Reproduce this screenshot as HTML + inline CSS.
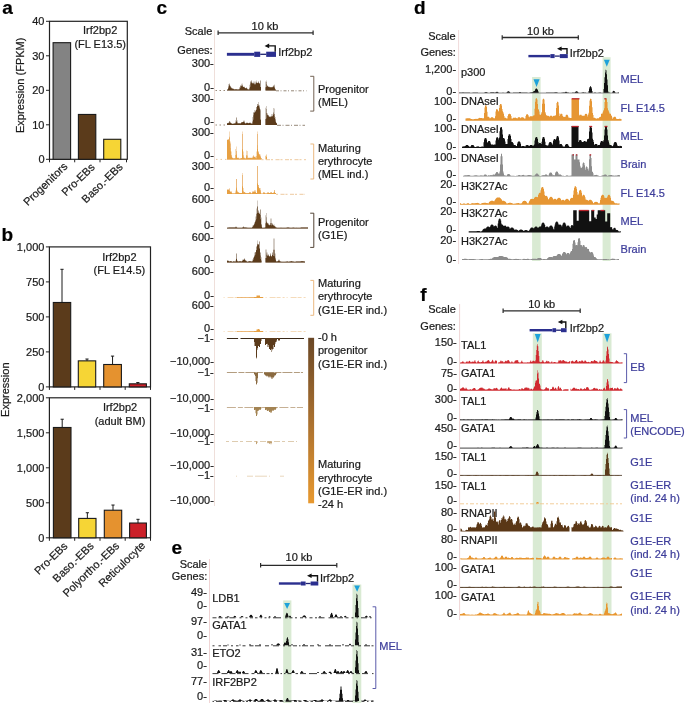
<!DOCTYPE html>
<html><head><meta charset="utf-8"><style>
html,body{margin:0;padding:0;background:#fff;width:685px;height:703px;overflow:hidden}
svg{display:block;will-change:transform}
text{font-family:"Liberation Sans",sans-serif;stroke:currentColor;stroke-width:0.22px;paint-order:stroke}
</style></head><body>
<svg width="685" height="703" viewBox="0 0 685 703">
<text x="2.20" y="14.20" font-size="19" text-anchor="start" fill="#000" color="#000" font-weight="bold" >a</text>
<rect x="49.50" y="21.30" width="77.80" height="138.00" fill="none" stroke="#222" stroke-width="1.2"/>
<line x1="46.00" y1="159.30" x2="49.50" y2="159.30" stroke="#222" stroke-width="1" />
<text x="44.50" y="163.20" font-size="11" text-anchor="end" fill="#1a1a1a" color="#1a1a1a" font-weight="normal" >0</text>
<line x1="46.00" y1="124.80" x2="49.50" y2="124.80" stroke="#222" stroke-width="1" />
<text x="44.50" y="128.70" font-size="11" text-anchor="end" fill="#1a1a1a" color="#1a1a1a" font-weight="normal" >10</text>
<line x1="46.00" y1="90.30" x2="49.50" y2="90.30" stroke="#222" stroke-width="1" />
<text x="44.50" y="94.20" font-size="11" text-anchor="end" fill="#1a1a1a" color="#1a1a1a" font-weight="normal" >20</text>
<line x1="46.00" y1="55.80" x2="49.50" y2="55.80" stroke="#222" stroke-width="1" />
<text x="44.50" y="59.70" font-size="11" text-anchor="end" fill="#1a1a1a" color="#1a1a1a" font-weight="normal" >30</text>
<line x1="46.00" y1="21.30" x2="49.50" y2="21.30" stroke="#222" stroke-width="1" />
<text x="44.50" y="25.20" font-size="11" text-anchor="end" fill="#1a1a1a" color="#1a1a1a" font-weight="normal" >40</text>
<line x1="49.50" y1="159.30" x2="49.50" y2="162.30" stroke="#222" stroke-width="1" />
<line x1="74.70" y1="159.30" x2="74.70" y2="162.30" stroke="#222" stroke-width="1" />
<line x1="100.00" y1="159.30" x2="100.00" y2="162.30" stroke="#222" stroke-width="1" />
<line x1="126.50" y1="159.30" x2="126.50" y2="162.30" stroke="#222" stroke-width="1" />
<rect x="53.10" y="42.69" width="17.50" height="116.61" fill="#838383" stroke="#1a1a1a" stroke-width="1.1" />
<rect x="78.40" y="114.45" width="17.40" height="44.85" fill="#5b3b1b" stroke="#1a1a1a" stroke-width="1.1" />
<rect x="103.70" y="139.29" width="17.10" height="20.01" fill="#f6d535" stroke="#1a1a1a" stroke-width="1.1" />
<text x="100.20" y="33.90" font-size="11" text-anchor="middle" fill="#1a1a1a" color="#1a1a1a" font-weight="normal" >Irf2bp2</text>
<text x="100.20" y="48.10" font-size="11" text-anchor="middle" fill="#1a1a1a" color="#1a1a1a" font-weight="normal" >(FL E13.5)</text>
<text x="68.20" y="167.20" font-size="11" text-anchor="end" fill="#1a1a1a" color="#1a1a1a" transform="rotate(-44 68.20 167.20)">Progenitors</text>
<text x="95.50" y="168.00" font-size="11" text-anchor="end" fill="#1a1a1a" color="#1a1a1a" transform="rotate(-44 95.50 168.00)">Pro-EBs</text>
<text x="123.50" y="167.60" font-size="11" text-anchor="end" fill="#1a1a1a" color="#1a1a1a" transform="rotate(-44 123.50 167.60)">Baso.-EBs</text>
<text x="24.2" y="85.3" font-size="11" text-anchor="middle" fill="#1a1a1a" color="#1a1a1a" transform="rotate(-90 24.2 85.3)">Expression (FPKM)</text>
<text x="1.40" y="241.30" font-size="19" text-anchor="start" fill="#000" color="#000" font-weight="bold" >b</text>
<rect x="49.40" y="246.90" width="101.10" height="140.00" fill="none" stroke="#222" stroke-width="1.2"/>
<line x1="45.90" y1="386.90" x2="49.40" y2="386.90" stroke="#222" stroke-width="1" />
<text x="44.40" y="390.80" font-size="11" text-anchor="end" fill="#1a1a1a" color="#1a1a1a" font-weight="normal" >0</text>
<line x1="45.90" y1="351.90" x2="49.40" y2="351.90" stroke="#222" stroke-width="1" />
<text x="44.40" y="355.80" font-size="11" text-anchor="end" fill="#1a1a1a" color="#1a1a1a" font-weight="normal" >250</text>
<line x1="45.90" y1="316.90" x2="49.40" y2="316.90" stroke="#222" stroke-width="1" />
<text x="44.40" y="320.80" font-size="11" text-anchor="end" fill="#1a1a1a" color="#1a1a1a" font-weight="normal" >500</text>
<line x1="45.90" y1="281.90" x2="49.40" y2="281.90" stroke="#222" stroke-width="1" />
<text x="44.40" y="285.80" font-size="11" text-anchor="end" fill="#1a1a1a" color="#1a1a1a" font-weight="normal" >750</text>
<line x1="45.90" y1="246.90" x2="49.40" y2="246.90" stroke="#222" stroke-width="1" />
<text x="44.40" y="250.80" font-size="11" text-anchor="end" fill="#1a1a1a" color="#1a1a1a" font-weight="normal" >1,000</text>
<line x1="49.40" y1="386.90" x2="49.40" y2="389.90" stroke="#222" stroke-width="1" />
<line x1="74.70" y1="386.90" x2="74.70" y2="389.90" stroke="#222" stroke-width="1" />
<line x1="100.00" y1="386.90" x2="100.00" y2="389.90" stroke="#222" stroke-width="1" />
<line x1="125.20" y1="386.90" x2="125.20" y2="389.90" stroke="#222" stroke-width="1" />
<line x1="150.50" y1="386.90" x2="150.50" y2="389.90" stroke="#222" stroke-width="1" />
<rect x="53.30" y="302.48" width="17.40" height="84.42" fill="#5b3b1b" stroke="#1a1a1a" stroke-width="1.1" />
<line x1="62.00" y1="269.30" x2="62.00" y2="302.48" stroke="#1a1a1a" stroke-width="1" />
<line x1="60.40" y1="269.30" x2="63.60" y2="269.30" stroke="#1a1a1a" stroke-width="1" />
<rect x="78.30" y="360.86" width="17.40" height="26.04" fill="#f6d535" stroke="#1a1a1a" stroke-width="1.1" />
<line x1="87.00" y1="359.04" x2="87.00" y2="360.86" stroke="#1a1a1a" stroke-width="1" />
<line x1="85.40" y1="359.04" x2="88.60" y2="359.04" stroke="#1a1a1a" stroke-width="1" />
<rect x="103.70" y="364.50" width="17.70" height="22.40" fill="#e5922f" stroke="#1a1a1a" stroke-width="1.1" />
<line x1="112.55" y1="356.10" x2="112.55" y2="364.50" stroke="#1a1a1a" stroke-width="1" />
<line x1="110.95" y1="356.10" x2="114.15" y2="356.10" stroke="#1a1a1a" stroke-width="1" />
<rect x="129.30" y="383.82" width="17.10" height="3.08" fill="#cb2028" stroke="#1a1a1a" stroke-width="1.1" />
<line x1="137.85" y1="382.56" x2="137.85" y2="383.82" stroke="#1a1a1a" stroke-width="1" />
<line x1="136.25" y1="382.56" x2="139.45" y2="382.56" stroke="#1a1a1a" stroke-width="1" />
<text x="119.40" y="260.70" font-size="11" text-anchor="middle" fill="#1a1a1a" color="#1a1a1a" font-weight="normal" >Irf2bp2</text>
<text x="119.40" y="273.80" font-size="11" text-anchor="middle" fill="#1a1a1a" color="#1a1a1a" font-weight="normal" >(FL E14.5)</text>
<rect x="49.40" y="397.80" width="101.10" height="140.00" fill="none" stroke="#222" stroke-width="1.2"/>
<line x1="45.90" y1="537.80" x2="49.40" y2="537.80" stroke="#222" stroke-width="1" />
<text x="44.40" y="541.70" font-size="11" text-anchor="end" fill="#1a1a1a" color="#1a1a1a" font-weight="normal" >0</text>
<line x1="45.90" y1="502.80" x2="49.40" y2="502.80" stroke="#222" stroke-width="1" />
<text x="44.40" y="506.70" font-size="11" text-anchor="end" fill="#1a1a1a" color="#1a1a1a" font-weight="normal" >500</text>
<line x1="45.90" y1="467.80" x2="49.40" y2="467.80" stroke="#222" stroke-width="1" />
<text x="44.40" y="471.70" font-size="11" text-anchor="end" fill="#1a1a1a" color="#1a1a1a" font-weight="normal" >1,000</text>
<line x1="45.90" y1="432.80" x2="49.40" y2="432.80" stroke="#222" stroke-width="1" />
<text x="44.40" y="436.70" font-size="11" text-anchor="end" fill="#1a1a1a" color="#1a1a1a" font-weight="normal" >1,500</text>
<line x1="45.90" y1="397.80" x2="49.40" y2="397.80" stroke="#222" stroke-width="1" />
<text x="44.40" y="401.70" font-size="11" text-anchor="end" fill="#1a1a1a" color="#1a1a1a" font-weight="normal" >2,000</text>
<line x1="49.40" y1="537.80" x2="49.40" y2="540.80" stroke="#222" stroke-width="1" />
<line x1="74.70" y1="537.80" x2="74.70" y2="540.80" stroke="#222" stroke-width="1" />
<line x1="100.00" y1="537.80" x2="100.00" y2="540.80" stroke="#222" stroke-width="1" />
<line x1="125.20" y1="537.80" x2="125.20" y2="540.80" stroke="#222" stroke-width="1" />
<line x1="150.50" y1="537.80" x2="150.50" y2="540.80" stroke="#222" stroke-width="1" />
<rect x="53.40" y="427.48" width="17.60" height="110.32" fill="#5b3b1b" stroke="#1a1a1a" stroke-width="1.1" />
<line x1="62.20" y1="419.22" x2="62.20" y2="427.48" stroke="#1a1a1a" stroke-width="1" />
<line x1="60.60" y1="419.22" x2="63.80" y2="419.22" stroke="#1a1a1a" stroke-width="1" />
<rect x="78.70" y="518.41" width="17.30" height="19.39" fill="#f6d535" stroke="#1a1a1a" stroke-width="1.1" />
<line x1="87.35" y1="512.74" x2="87.35" y2="518.41" stroke="#1a1a1a" stroke-width="1" />
<line x1="85.75" y1="512.74" x2="88.95" y2="512.74" stroke="#1a1a1a" stroke-width="1" />
<rect x="104.30" y="510.22" width="17.40" height="27.58" fill="#e5922f" stroke="#1a1a1a" stroke-width="1.1" />
<line x1="113.00" y1="505.04" x2="113.00" y2="510.22" stroke="#1a1a1a" stroke-width="1" />
<line x1="111.40" y1="505.04" x2="114.60" y2="505.04" stroke="#1a1a1a" stroke-width="1" />
<rect x="129.60" y="523.03" width="16.80" height="14.77" fill="#cb2028" stroke="#1a1a1a" stroke-width="1.1" />
<line x1="138.00" y1="519.32" x2="138.00" y2="523.03" stroke="#1a1a1a" stroke-width="1" />
<line x1="136.40" y1="519.32" x2="139.60" y2="519.32" stroke="#1a1a1a" stroke-width="1" />
<text x="120.00" y="411.00" font-size="11" text-anchor="middle" fill="#1a1a1a" color="#1a1a1a" font-weight="normal" >Irf2bp2</text>
<text x="120.00" y="424.50" font-size="11" text-anchor="middle" fill="#1a1a1a" color="#1a1a1a" font-weight="normal" >(adult BM)</text>
<text x="68.30" y="546.80" font-size="11" text-anchor="end" fill="#1a1a1a" color="#1a1a1a" transform="rotate(-44 68.30 546.80)">Pro-EBs</text>
<text x="94.50" y="546.80" font-size="11" text-anchor="end" fill="#1a1a1a" color="#1a1a1a" transform="rotate(-44 94.50 546.80)">Baso.-EBs</text>
<text x="120.00" y="546.60" font-size="11" text-anchor="end" fill="#1a1a1a" color="#1a1a1a" transform="rotate(-44 120.00 546.60)">Polyortho.-EBs</text>
<text x="146.00" y="546.20" font-size="11" text-anchor="end" fill="#1a1a1a" color="#1a1a1a" transform="rotate(-44 146.00 546.20)">Reticulocyte</text>
<text x="9.4" y="389.7" font-size="11" text-anchor="middle" fill="#1a1a1a" color="#1a1a1a" transform="rotate(-90 9.4 389.7)">Expression</text>
<text x="156.60" y="14.10" font-size="19" text-anchor="start" fill="#000" color="#000" font-weight="bold" >c</text>
<text x="212.30" y="35.10" font-size="11" text-anchor="end" fill="#1a1a1a" color="#1a1a1a" font-weight="normal" >Scale</text>
<line x1="218.10" y1="32.80" x2="313.10" y2="32.80" stroke="#2a2a2a" stroke-width="1.3" />
<line x1="218.10" y1="30.60" x2="218.10" y2="35.00" stroke="#2a2a2a" stroke-width="1.2" />
<line x1="313.10" y1="30.60" x2="313.10" y2="35.00" stroke="#2a2a2a" stroke-width="1.2" />
<text x="265.00" y="29.80" font-size="11" text-anchor="middle" fill="#1a1a1a" color="#1a1a1a" font-weight="normal" >10 kb</text>
<text x="212.60" y="53.60" font-size="11" text-anchor="end" fill="#1a1a1a" color="#1a1a1a" font-weight="normal" >Genes:</text>
<rect x="226.90" y="52.85" width="27.30" height="2.90" fill="#2b2f8f" stroke="none" stroke-width="0" />
<line x1="260.20" y1="54.30" x2="266.20" y2="54.30" stroke="#1f2370" stroke-width="1.3" />
<rect x="254.20" y="51.70" width="6.00" height="5.20" fill="#2b2f8f" stroke="none" stroke-width="0" />
<rect x="266.20" y="51.70" width="9.80" height="5.20" fill="#2b2f8f" stroke="none" stroke-width="0" />
<path d="M275.20,51.70 V45.90 H268.10" fill="none" stroke="#111" stroke-width="1.4"/>
<path d="M264.60,45.90 l4.6,-2.3 v4.6 z" fill="#111"/>
<text x="278.20" y="56.00" font-size="11" text-anchor="start" fill="#1a1a1a" color="#1a1a1a" font-weight="normal" >Irf2bp2</text>
<line x1="214.50" y1="30.00" x2="214.50" y2="506.00" stroke="#efdfda" stroke-width="1" />
<text x="213.80" y="67.00" font-size="11" text-anchor="end" fill="#1a1a1a" color="#1a1a1a" font-weight="normal" >300-</text>
<text x="213.80" y="90.70" font-size="11" text-anchor="end" fill="#1a1a1a" color="#1a1a1a" font-weight="normal" >0-</text>
<text x="213.80" y="102.20" font-size="11" text-anchor="end" fill="#1a1a1a" color="#1a1a1a" font-weight="normal" >300-</text>
<text x="213.80" y="124.70" font-size="11" text-anchor="end" fill="#1a1a1a" color="#1a1a1a" font-weight="normal" >0-</text>
<text x="213.80" y="136.20" font-size="11" text-anchor="end" fill="#1a1a1a" color="#1a1a1a" font-weight="normal" >300-</text>
<text x="213.80" y="159.20" font-size="11" text-anchor="end" fill="#1a1a1a" color="#1a1a1a" font-weight="normal" >0-</text>
<text x="213.80" y="169.80" font-size="11" text-anchor="end" fill="#1a1a1a" color="#1a1a1a" font-weight="normal" >300-</text>
<text x="213.80" y="190.50" font-size="11" text-anchor="end" fill="#1a1a1a" color="#1a1a1a" font-weight="normal" >0-</text>
<text x="213.80" y="203.20" font-size="11" text-anchor="end" fill="#1a1a1a" color="#1a1a1a" font-weight="normal" >600-</text>
<text x="213.80" y="228.60" font-size="11" text-anchor="end" fill="#1a1a1a" color="#1a1a1a" font-weight="normal" >0-</text>
<text x="213.80" y="241.20" font-size="11" text-anchor="end" fill="#1a1a1a" color="#1a1a1a" font-weight="normal" >600-</text>
<text x="213.80" y="262.80" font-size="11" text-anchor="end" fill="#1a1a1a" color="#1a1a1a" font-weight="normal" >0-</text>
<text x="213.80" y="275.30" font-size="11" text-anchor="end" fill="#1a1a1a" color="#1a1a1a" font-weight="normal" >600-</text>
<text x="213.80" y="298.50" font-size="11" text-anchor="end" fill="#1a1a1a" color="#1a1a1a" font-weight="normal" >0-</text>
<text x="213.80" y="309.10" font-size="11" text-anchor="end" fill="#1a1a1a" color="#1a1a1a" font-weight="normal" >600-</text>
<text x="213.80" y="332.20" font-size="11" text-anchor="end" fill="#1a1a1a" color="#1a1a1a" font-weight="normal" >0-</text>
<text x="213.80" y="342.10" font-size="11" text-anchor="end" fill="#1a1a1a" color="#1a1a1a" font-weight="normal" >−1-</text>
<text x="213.80" y="365.00" font-size="11" text-anchor="end" fill="#1a1a1a" color="#1a1a1a" font-weight="normal" >−10,000-</text>
<text x="213.80" y="375.60" font-size="11" text-anchor="end" fill="#1a1a1a" color="#1a1a1a" font-weight="normal" >−1-</text>
<text x="213.80" y="402.00" font-size="11" text-anchor="end" fill="#1a1a1a" color="#1a1a1a" font-weight="normal" >−10,000-</text>
<text x="213.80" y="411.70" font-size="11" text-anchor="end" fill="#1a1a1a" color="#1a1a1a" font-weight="normal" >−1-</text>
<text x="213.80" y="436.60" font-size="11" text-anchor="end" fill="#1a1a1a" color="#1a1a1a" font-weight="normal" >−10,000-</text>
<text x="213.80" y="445.30" font-size="11" text-anchor="end" fill="#1a1a1a" color="#1a1a1a" font-weight="normal" >−1-</text>
<text x="213.80" y="469.40" font-size="11" text-anchor="end" fill="#1a1a1a" color="#1a1a1a" font-weight="normal" >−10,000-</text>
<text x="213.80" y="478.60" font-size="11" text-anchor="end" fill="#1a1a1a" color="#1a1a1a" font-weight="normal" >−1-</text>
<text x="213.80" y="503.80" font-size="11" text-anchor="end" fill="#1a1a1a" color="#1a1a1a" font-weight="normal" >−10,000-</text>
<line x1="215.50" y1="90.50" x2="227.00" y2="90.50" stroke="#9a8a7a" stroke-width="1" stroke-dasharray="1.5 2.5"/>
<path d="M227.0,90.5V89.8H227.5V89.1H228.0V86.2H228.5V84.1H229.0V83.5H229.5V83.8H230.0V85.7H230.5V86.5H231.0V87.1H231.5V88.2H232.0V88.7H232.5V88.5H233.5V88.7H234.0V89.1H234.5V89.5H235.0V89.4H235.5V89.0H236.5V89.4H237.0V89.5H238.0V89.4H238.5V89.3H239.5V87.0H240.0V85.5H241.0V86.3H241.5V83.7H242.0V83.5H242.5V85.0H243.0V87.1H243.5V86.5H244.5V87.1H245.0V88.2H246.0V87.5H247.0V88.2H247.5V89.2H248.0V89.4H248.5V89.5H249.5V84.7H250.0V81.5H251.0V80.5H252.0V83.6H252.5V82.5H253.0V83.1H253.5V81.5H254.5V84.5H255.5V81.4H256.0V80.5H256.5V82.1H257.0V82.5H257.5V83.2H258.0V81.5H259.0V83.5H260.0V80.5H261.0V90.5H265.5V81.4H266.0V80.5H266.5V82.1H267.0V85.5H268.0V86.7H268.5V86.5H269.5V87.1H270.0V87.5H270.5V87.0H271.5V87.5H272.5V86.5H273.5V85.0H274.0V84.5H274.5V85.5H275.0V88.8H275.5V89.7H276.0V90.5Z" fill="#a89a8c"/>
<path d="M227.0,90.5V89.8H227.5V89.6H228.0V88.5H228.5V87.4H229.0V85.3H229.5V85.6H230.0V86.6H230.5V87.6H231.0V88.1H231.5V88.5H232.0V88.7H232.5V88.6H233.0V88.9H233.5V89.2H234.0V89.4H234.5V89.5H235.5V89.3H236.5V89.5H238.5V89.4H239.5V88.5H240.0V88.0H240.5V86.5H241.0V86.3H241.5V85.4H242.0V85.8H242.5V86.4H243.0V87.1H243.5V86.9H244.0V87.6H244.5V87.8H245.0V88.2H246.0V88.0H246.5V88.6H247.0V89.0H247.5V89.4H248.0V89.5H249.5V87.8H250.0V86.7H250.5V83.6H251.0V82.5H252.0V83.6H252.5V83.2H253.0V83.4H254.5V84.5H255.5V83.4H256.0V83.1H256.5V82.8H257.0V83.0H257.5V83.2H258.0V82.8H259.0V83.5H260.0V87.0H261.0V90.5H265.5V87.3H266.0V87.0H266.5V84.3H267.0V86.3H268.0V86.7H268.5V86.9H269.0V87.1H269.5V87.4H270.0V87.5H270.5V87.3H271.5V87.5H272.5V87.1H273.5V86.0H274.0V87.3H274.5V88.2H275.0V89.4H275.5V89.7H276.0V90.5Z" fill="#5b3b1b"/>
<line x1="276.00" y1="90.80" x2="306.50" y2="90.80" stroke="#8a7a6a" stroke-width="0.9" stroke-dasharray="3 1.5 1 2"/>
<line x1="215.50" y1="125.00" x2="227.00" y2="125.00" stroke="#9a8a7a" stroke-width="1" stroke-dasharray="1.5 2.5"/>
<path d="M227.0,125.0V123.3H228.5V122.3H229.0V121.1H229.5V121.0H230.0V121.7H230.5V123.0H231.5V123.2H232.0V123.6H232.5V123.9H233.0V123.7H233.5V123.5H234.5V123.6H235.0V123.5H235.5V120.2H236.0V117.5H237.0V120.2H237.5V123.6H238.0V123.2H238.5V123.0H239.5V123.2H240.0V123.6H240.5V122.9H241.0V122.3H241.5V122.0H242.5V122.3H243.0V121.6H243.5V120.5H244.5V121.6H245.0V123.5H245.5V123.2H246.0V122.8H246.5V122.5H247.5V122.8H248.0V123.2H249.0V122.8H249.5V122.5H250.5V122.8H251.0V123.2H251.5V123.8H252.0V123.5H252.5V117.1H253.0V112.8H253.5V112.0H254.0V112.9H254.5V110.0H255.5V111.3H256.0V107.0H257.0V104.0H258.0V102.0H258.5V105.8H259.0V105.0H259.5V106.2H260.0V109.0H260.5V110.2H261.0V125.0H265.5V107.7H266.0V106.0H266.5V109.1H267.0V113.0H267.5V115.3H268.0V115.0H269.0V116.9H269.5V116.0H270.5V117.3H271.0V116.6H271.5V114.0H272.5V116.6H273.0V112.3H273.5V108.0H274.0V108.5H274.5V115.9H275.0V117.0H275.5V118.9H276.0V122.4H276.5V123.5H277.0V125.0Z" fill="#a89a8c"/>
<path d="M227.0,125.0V123.3H228.5V123.0H229.0V122.5H229.5V122.3H230.0V122.5H230.5V123.1H231.0V123.4H231.5V123.7H232.0V123.8H232.5V123.9H233.0V123.8H234.0V123.6H235.5V122.4H236.0V121.4H236.5V121.5H237.0V122.4H237.5V123.6H238.0V123.5H238.5V123.4H239.5V123.5H240.0V123.6H240.5V123.4H241.0V123.1H241.5V122.6H242.0V122.2H242.5V122.3H243.0V122.1H243.5V121.7H244.0V122.5H244.5V122.8H245.0V123.5H245.5V123.4H246.0V123.3H246.5V123.0H247.5V123.1H248.0V123.2H249.0V123.1H249.5V123.0H250.5V123.4H251.0V123.6H251.5V123.8H252.0V123.7H252.5V121.5H253.0V119.8H253.5V115.3H254.0V112.9H254.5V111.9H255.5V111.3H256.0V109.8H257.0V105.9H258.0V104.5H258.5V106.1H259.0V107.6H259.5V108.8H260.0V119.4H260.5V119.8H261.0V125.0H265.5V118.9H266.0V118.4H266.5V113.1H267.0V114.5H267.5V115.3H268.0V116.2H269.0V116.9H269.5V116.8H270.5V117.3H271.0V117.1H271.5V116.1H272.0V115.7H272.5V116.6H273.0V115.1H273.5V113.6H274.0V114.0H274.5V117.9H275.0V120.5H275.5V121.9H276.0V123.1H276.5V123.5H277.0V125.0Z" fill="#5b3b1b"/>
<line x1="277.00" y1="125.30" x2="305.00" y2="125.30" stroke="#8a7a6a" stroke-width="0.9" stroke-dasharray="4 1.5 1 2"/>
<path d="M227.0,159.4V139.9H227.5V139.4H229.0V131.4H229.5V136.8H230.0V141.4H230.5V143.6H231.0V151.4H231.5V155.4H232.0V157.4H232.5V157.8H233.0V158.4H233.5V158.3H235.0V158.4H235.5V148.9H236.0V146.4H236.5V151.0H237.0V158.1H237.5V157.4H238.5V158.1H239.0V158.8H239.5V158.6H240.0V158.4H240.5V158.2H241.0V158.1H241.5V158.3H242.0V133.9H242.5V131.4H243.0V151.4H243.5V157.4H244.5V158.1H245.0V158.6H245.5V158.4H246.0V155.3H246.5V150.4H247.0V151.0H247.5V158.1H248.5V157.4H249.5V158.1H250.5V157.4H251.5V158.1H252.0V158.3H252.5V156.4H253.0V155.4H253.5V155.5H254.0V157.3H254.5V156.4H255.5V157.5H256.0V158.6H256.5V151.4H257.0V131.4H257.5V133.9H258.0V151.4H259.0V154.2H259.5V154.4H260.5V156.2H261.0V158.1H261.5V159.4Z" fill="#ebb97e"/>
<path d="M227.0,159.4V139.9H227.5V139.7H228.5V139.4H229.0V137.9H229.5V141.2H230.0V147.9H230.5V151.3H231.0V155.3H231.5V157.0H232.0V158.0H232.5V158.2H233.0V158.4H235.5V155.1H236.0V154.2H236.5V155.6H237.0V158.1H237.5V157.9H238.0V158.3H238.5V158.6H239.0V158.8H239.5V158.7H240.5V158.5H241.0V158.3H242.0V149.8H242.5V148.9H243.0V155.3H243.5V157.9H244.0V158.2H244.5V158.4H245.0V158.6H245.5V158.5H246.0V157.4H246.5V155.6H247.5V158.1H248.5V157.9H249.5V158.1H250.5V157.9H251.0V158.0H251.5V158.2H252.0V158.3H252.5V157.6H253.0V157.3H253.5V156.7H254.0V157.3H254.5V157.1H255.0V157.8H255.5V158.2H256.0V158.6H256.5V156.1H257.0V149.1H257.5V145.3H258.0V153.2H258.5V153.4H259.0V154.3H259.5V155.6H260.0V156.8H260.5V157.4H261.0V158.1H261.5V159.4Z" fill="#e7a042"/>
<line x1="216.00" y1="159.40" x2="227.00" y2="159.40" stroke="#e9c9a0" stroke-width="1" stroke-dasharray="1.5 3"/>
<path d="M265.5,159.4V155.7H266.0V154.4H266.5V156.7H267.0V159.4Z" fill="#e7a042"/>
<line x1="261.50" y1="159.70" x2="306.00" y2="159.70" stroke="#ecc494" stroke-width="0.9" stroke-dasharray="2 2.5 4 1"/>
<path d="M227.0,194.0V190.0H227.5V189.0H228.5V190.0H229.0V188.0H229.5V189.2H230.0V192.1H230.5V191.0H231.5V192.1H232.0V193.4H233.0V193.5H235.5V190.4H236.0V179.0H237.0V190.4H237.5V192.0H238.5V192.7H239.0V192.8H239.5V192.9H241.5V193.0H242.0V174.9H242.5V173.0H243.0V188.0H243.5V192.4H244.0V192.0H245.0V192.4H245.5V193.1H246.0V193.3H246.5V193.2H247.5V193.3H248.5V193.1H249.0V192.4H249.5V192.0H250.5V192.4H251.0V193.1H251.5V193.5H252.0V192.1H252.5V191.0H253.5V192.1H254.0V191.4H254.5V190.0H255.5V191.4H256.0V193.1H256.5V192.9H257.0V166.0H258.0V185.0H259.0V188.2H259.5V188.0H260.5V190.1H261.0V192.9H261.5V194.0H262.5V192.9H263.0V192.7H263.5V192.0H264.5V192.7H265.0V193.4H267.0V192.7H267.5V192.0H268.5V192.7H269.0V193.1H270.0V192.7H270.5V192.0H271.5V192.7H272.0V192.9H273.5V192.2H274.0V190.0H274.5V190.3H275.0V193.0H275.5V193.2H276.0V194.0Z" fill="#ebb97e"/>
<path d="M227.0,194.0V190.0H227.5V189.7H228.5V190.0H229.0V190.7H229.5V191.1H230.0V192.1H230.5V191.7H231.0V192.6H231.5V192.9H232.0V193.5H235.5V192.4H236.0V188.4H236.5V187.5H237.0V191.4H237.5V192.5H238.5V192.8H239.0V192.9H240.5V193.0H242.0V186.7H242.5V186.0H243.0V190.9H243.5V192.4H244.0V192.3H244.5V192.7H245.0V193.0H245.5V193.2H246.0V193.3H248.5V193.2H249.0V193.0H249.5V192.7H250.5V193.1H251.0V193.4H251.5V193.5H252.0V193.0H252.5V192.6H253.0V191.7H253.5V192.1H254.0V191.9H254.5V191.4H255.0V192.0H255.5V192.5H256.0V193.1H256.5V193.0H257.0V183.6H257.5V183.5H258.0V187.1H259.0V188.2H259.5V189.4H260.0V191.2H260.5V192.6H261.0V193.6H261.5V194.0H262.5V193.6H263.0V193.5H263.5V192.6H264.0V192.9H264.5V193.2H265.0V193.4H267.0V193.2H267.5V192.9H268.0V192.7H268.5V193.0H269.0V193.1H270.0V193.0H270.5V192.7H271.0V192.6H271.5V192.8H272.0V192.9H273.5V192.7H274.0V192.0H274.5V192.2H275.0V193.1H275.5V193.2H276.0V194.0Z" fill="#e7a042"/>
<line x1="276.00" y1="194.30" x2="305.00" y2="194.30" stroke="#ecc494" stroke-width="0.9" stroke-dasharray="2 2.5 4 1"/>
<path d="M227.0,228.6V227.7H227.5V227.6H232.5V227.5H233.5V227.6H235.0V227.3H235.5V226.6H236.5V227.3H237.0V227.6H237.5V227.7H238.5V227.8H240.5V227.7H242.0V227.6H242.5V227.3H243.0V226.6H244.0V227.3H244.5V227.6H247.5V227.7H248.5V227.8H250.0V227.7H252.0V226.7H252.5V225.6H253.5V224.7H254.0V222.6H255.0V220.8H255.5V216.6H256.5V208.6H257.0V206.0H257.5V200.6H258.0V210.5H258.5V210.6H259.0V214.0H259.5V212.6H260.0V210.1H260.5V209.0H261.0V217.5H261.5V224.9H262.0V227.8H263.0V227.7H264.0V227.6H265.0V227.5H265.5V215.3H266.0V212.9H266.5V217.3H267.0V222.6H267.5V223.6H269.0V225.4H269.5V224.6H270.5V218.6H271.5V225.4H272.0V223.6H273.0V225.4H273.5V224.6H274.5V226.0H275.0V226.6H276.0V227.3H276.5V227.8H279.5V227.7H280.5V227.6H281.5V227.7H282.5V227.8H285.5V227.7H286.0V227.6H287.0V227.5H288.5V227.6H290.0V227.7H292.0V227.6H293.0V227.5H293.5V227.6H294.5V227.7H296.5V227.6H297.0V227.7H298.5V227.8H299.5V227.7H300.0V227.6H301.0V227.5H301.5V227.6H304.5V227.5H307.0V227.6H308.0V228.6Z" fill="#a89a8c"/>
<path d="M227.0,228.6V227.7H228.5V227.6H235.0V227.5H235.5V227.2H236.5V227.6H237.0V227.7H237.5V227.8H241.5V227.7H242.5V227.6H243.0V227.2H244.0V227.5H244.5V227.6H246.5V227.7H247.5V227.8H251.0V227.7H252.0V227.4H252.5V227.0H253.0V226.3H253.5V225.3H254.0V224.6H254.5V224.0H255.0V222.0H255.5V220.5H256.0V219.3H256.5V213.8H257.0V212.9H257.5V207.1H258.0V212.8H259.0V214.0H259.5V213.5H260.0V214.9H260.5V219.3H261.0V224.2H261.5V226.8H262.0V227.8H264.0V227.7H265.0V227.6H265.5V223.3H266.0V222.4H266.5V221.4H267.0V223.3H267.5V223.6H268.0V224.8H269.0V225.4H269.5V225.1H270.5V223.0H271.5V225.4H272.0V224.8H273.0V225.4H273.5V225.5H274.0V225.9H274.5V226.4H275.0V227.1H275.5V227.4H276.0V227.6H276.5V227.8H280.5V227.7H281.5V227.8H286.0V227.7H287.0V227.6H289.0V227.7H293.0V227.6H293.5V227.7H297.5V227.8H300.0V227.7H301.0V227.6H305.5V227.5H306.0V227.6H308.0V228.6Z" fill="#5b3b1b"/>
<path d="M227.0,262.4V260.8H227.5V260.4H228.5V260.8H229.0V261.3H229.5V261.4H230.0V261.2H230.5V260.9H231.5V261.2H232.0V261.7H233.0V261.4H233.5V260.9H234.5V261.4H235.0V261.8H235.5V260.2H236.0V253.4H237.0V260.2H237.5V261.5H239.0V261.4H239.5V260.9H240.5V261.3H241.5V261.4H242.0V260.5H242.5V259.4H243.5V259.8H244.0V258.4H245.0V259.8H245.5V260.4H246.5V261.1H247.0V261.7H247.5V261.6H248.0V261.4H248.5V261.3H249.0V261.2H249.5V260.9H250.5V261.3H251.0V261.4H252.0V261.5H252.5V259.2H253.0V257.4H254.0V255.9H254.5V252.4H255.5V252.1H256.0V246.4H257.0V243.8H257.5V240.4H258.0V244.4H259.0V241.4H260.0V252.4H261.0V257.3H261.5V262.4H265.5V249.4H266.5V252.4H267.5V255.9H268.0V254.4H269.0V255.9H269.5V256.6H270.0V253.4H271.0V256.6H271.5V255.9H272.0V252.4H273.0V255.9H273.5V238.4H274.5V253.4H275.5V257.8H276.0V261.5H276.5V261.3H277.0V261.2H278.0V260.5H278.5V259.4H279.5V260.5H280.0V261.5H281.0V261.6H281.5V261.7H282.5V261.8H284.5V261.7H285.5V261.6H286.5V261.5H288.0V261.6H288.5V261.7H289.0V261.6H289.5V261.5H290.0V261.3H290.5V261.2H291.0V261.1H291.5V261.2H292.0V261.3H292.5V261.4H293.0V261.5H293.5V261.6H294.0V261.7H295.5V261.6H296.0V261.5H296.5V261.4H297.5V261.5H298.0V261.6H299.5V261.5H300.0V261.3H300.5V261.2H301.0V261.1H303.0V261.2H303.5V261.3H304.0V261.4H304.5V261.5H305.0V262.4Z" fill="#a89a8c"/>
<path d="M227.0,262.4V260.8H227.5V260.7H228.0V261.0H228.5V261.2H229.0V261.4H230.0V261.3H230.5V261.2H231.0V261.4H231.5V261.5H232.0V261.7H233.0V261.6H233.5V261.4H234.0V261.5H234.5V261.7H235.0V261.8H235.5V261.2H236.0V258.9H236.5V258.7H237.0V261.0H237.5V261.5H239.5V261.3H240.0V261.2H240.5V261.4H242.0V261.1H242.5V260.7H243.0V260.1H243.5V259.8H244.0V259.3H244.5V259.7H245.0V260.2H245.5V260.9H246.0V261.2H246.5V261.5H247.0V261.7H248.0V261.6H248.5V261.5H249.0V261.3H249.5V261.2H250.5V261.4H251.0V261.5H252.5V260.7H253.0V260.1H253.5V258.6H254.0V256.9H254.5V255.6H255.0V254.7H255.5V252.3H256.0V250.3H256.5V250.1H257.0V245.5H257.5V244.3H258.0V244.4H259.0V248.6H260.0V255.6H260.5V258.9H261.0V260.6H261.5V262.4H265.5V257.9H266.5V254.7H267.5V255.9H268.0V255.4H268.5V255.8H269.0V256.4H269.5V256.6H270.0V255.5H271.0V256.6H271.5V256.4H272.0V255.1H272.5V254.7H273.0V255.9H273.5V249.8H274.5V256.3H275.0V258.7H275.5V260.2H276.0V261.5H276.5V261.4H277.5V261.3H278.0V261.0H278.5V260.6H279.0V260.8H279.5V261.2H280.0V261.6H281.0V261.7H281.5V261.8H285.5V261.7H286.5V261.6H288.0V261.7H289.5V261.6H290.0V261.5H290.5V261.4H291.0V261.2H291.5V261.3H292.0V261.4H292.5V261.5H293.0V261.6H293.5V261.7H296.0V261.6H296.5V261.5H297.5V261.6H300.0V261.5H300.5V261.4H301.0V261.2H303.0V261.3H303.5V261.4H304.0V261.5H305.0V262.4Z" fill="#5b3b1b"/>
<line x1="223.60" y1="297.50" x2="306.40" y2="297.50" stroke="#f3d2a8" stroke-width="0.8" stroke-dasharray="1 3 6 1 4 2 2 2"/>
<line x1="237.00" y1="297.50" x2="254.00" y2="297.50" stroke="#e9aa5c" stroke-width="0.8" />
<path d="M254.0,297.9V297.0H256.5V295.4H260.0V297.0H263.0V297.9Z" fill="#e7a042"/>
<line x1="223.60" y1="331.50" x2="306.40" y2="331.50" stroke="#f3d2a8" stroke-width="0.8" stroke-dasharray="1 3 6 1 4 2 2 2"/>
<line x1="237.00" y1="331.50" x2="254.00" y2="331.50" stroke="#e9aa5c" stroke-width="0.8" />
<path d="M254.0,331.9V331.0H256.5V329.4H257.5V329.3H258.0V328.9H258.5V329.0H259.0V329.4H260.0V331.0H263.0V331.9Z" fill="#e7a042"/>
<line x1="226.90" y1="338.50" x2="238.10" y2="338.50" stroke="#3a2a1a" stroke-width="1" />
<line x1="240.50" y1="338.50" x2="304.00" y2="338.50" stroke="#3a2a1a" stroke-width="1" />
<path d="M254.0,338.0V342.0H254.5V346.0H256.0V357.5H256.5V358.6H257.0V349.7H257.5V348.0H258.0V346.0H259.0V347.0H260.0V344.0H261.0V341.0H261.5V338.0H265.0V345.0H266.0V344.0H267.0V343.8H267.5V347.0H268.5V345.1H269.0V349.0H270.0V350.0H271.0V348.8H271.5V352.0H272.0V350.3H272.5V349.0H273.5V345.1H274.0V347.0H275.0V343.8H275.5V342.0H276.5V340.6H277.0V338.0H278.0V339.9H278.5V341.0H279.5V339.9H280.0V338.0H281.0V338.0Z" fill="#5a3a1a"/>
<line x1="226.90" y1="372.50" x2="303.00" y2="372.50" stroke="#a08460" stroke-width="0.8" stroke-dasharray="10 1.5 6 1"/>
<path d="M254.0,372.5V373.9H254.5V374.9H255.0V376.1H255.5V381.1H256.0V384.3H256.5V384.5H257.0V382.7H257.5V378.3H258.0V372.5H264.0V373.9H264.5V374.9H265.0V375.5H266.0V375.7H266.5V376.5H267.5V375.7H268.0V376.5H268.5V377.5H269.5V376.5H270.5V377.5H271.5V378.9H272.5V377.4H273.0V377.5H274.0V376.5H274.5V375.5H275.5V374.9H276.0V373.9H276.5V372.5H277.0V372.5Z" fill="#8a6a40"/>
<line x1="226.90" y1="407.50" x2="303.00" y2="407.50" stroke="#b89c78" stroke-width="0.8" stroke-dasharray="9 2 5 1.5"/>
<path d="M254.0,407.1V410.1H255.0V409.7H255.5V413.3H256.0V415.9H256.5V416.1H257.0V414.6H257.5V411.1H258.5V410.3H259.0V409.5H259.5V410.1H260.5V409.5H261.0V408.5H261.5V407.1H265.0V410.1H266.0V409.5H266.5V410.3H267.0V411.1H268.0V410.3H268.5V411.1H269.0V412.1H270.0V411.7H270.5V413.1H271.5V411.7H272.0V410.3H272.5V411.1H273.5V410.3H274.0V409.5H274.5V410.1H275.5V409.5H276.0V408.5H276.5V407.1H277.0V407.1Z" fill="#a38352"/>
<line x1="226.00" y1="441.50" x2="297.00" y2="441.50" stroke="#d6bf9c" stroke-width="0.8" stroke-dasharray="3 3 6 2"/>
<path d="M255.0,441.2V441.2H255.5V441.8H256.0V444.0H256.5V444.2H257.0V442.9H257.5V441.2H267.0V442.5H267.5V443.2H268.5V442.8H269.0V443.7H270.0V443.1H270.5V444.2H271.5V443.1H272.0V441.2H274.0V441.2Z" fill="#c2a274"/>
<line x1="236.00" y1="476.20" x2="284.00" y2="476.20" stroke="#e6d2b4" stroke-width="0.9" stroke-dasharray="1 10 6 2 12 2"/>
<defs><linearGradient id="gb" x1="0" y1="0" x2="0" y2="1"><stop offset="0" stop-color="#6a4726"/><stop offset="0.5" stop-color="#a9702f"/><stop offset="1" stop-color="#e8992f"/></linearGradient></defs>
<rect x="308.20" y="337.80" width="5.90" height="165.50" fill="url(#gb)" stroke="none" stroke-width="0" />
<path d="M310.20,76.30 H313.80 V111.10 H310.20" fill="none" stroke="#6a5a4a" stroke-width="0.95"/>
<path d="M310.40,144.00 H313.70 V179.00 H310.40" fill="none" stroke="#e9b57a" stroke-width="0.95"/>
<path d="M310.20,213.20 H313.80 V247.40 H310.20" fill="none" stroke="#4a3a2a" stroke-width="0.95"/>
<path d="M310.40,280.40 H313.70 V315.30 H310.40" fill="none" stroke="#e9b57a" stroke-width="0.95"/>
<text x="318.00" y="92.80" font-size="11" text-anchor="start" fill="#1a1a1a" color="#1a1a1a" font-weight="normal" >Progenitor</text>
<text x="318.00" y="106.20" font-size="11" text-anchor="start" fill="#1a1a1a" color="#1a1a1a" font-weight="normal" >(MEL)</text>
<text x="318.00" y="152.00" font-size="11" text-anchor="start" fill="#1a1a1a" color="#1a1a1a" font-weight="normal" >Maturing</text>
<text x="318.00" y="165.30" font-size="11" text-anchor="start" fill="#1a1a1a" color="#1a1a1a" font-weight="normal" >erythrocyte</text>
<text x="318.00" y="178.40" font-size="11" text-anchor="start" fill="#1a1a1a" color="#1a1a1a" font-weight="normal" >(MEL ind.)</text>
<text x="318.00" y="225.70" font-size="11" text-anchor="start" fill="#1a1a1a" color="#1a1a1a" font-weight="normal" >Progenitor</text>
<text x="318.00" y="239.30" font-size="11" text-anchor="start" fill="#1a1a1a" color="#1a1a1a" font-weight="normal" >(G1E)</text>
<text x="318.00" y="286.90" font-size="11" text-anchor="start" fill="#1a1a1a" color="#1a1a1a" font-weight="normal" >Maturing</text>
<text x="318.00" y="300.30" font-size="11" text-anchor="start" fill="#1a1a1a" color="#1a1a1a" font-weight="normal" >erythrocyte</text>
<text x="318.00" y="313.70" font-size="11" text-anchor="start" fill="#1a1a1a" color="#1a1a1a" font-weight="normal" >(G1E-ER ind.)</text>
<text x="318.00" y="340.70" font-size="11" text-anchor="start" fill="#1a1a1a" color="#1a1a1a" font-weight="normal" >-0 h</text>
<text x="318.00" y="354.30" font-size="11" text-anchor="start" fill="#1a1a1a" color="#1a1a1a" font-weight="normal" >progenitor</text>
<text x="318.00" y="367.50" font-size="11" text-anchor="start" fill="#1a1a1a" color="#1a1a1a" font-weight="normal" >(G1E-ER ind.)</text>
<text x="318.00" y="468.00" font-size="11" text-anchor="start" fill="#1a1a1a" color="#1a1a1a" font-weight="normal" >Maturing</text>
<text x="318.00" y="481.50" font-size="11" text-anchor="start" fill="#1a1a1a" color="#1a1a1a" font-weight="normal" >erythrocyte</text>
<text x="318.00" y="494.50" font-size="11" text-anchor="start" fill="#1a1a1a" color="#1a1a1a" font-weight="normal" >(G1E-ER ind.)</text>
<text x="318.00" y="508.00" font-size="11" text-anchor="start" fill="#1a1a1a" color="#1a1a1a" font-weight="normal" >-24 h</text>
<text x="414.00" y="13.90" font-size="19" text-anchor="start" fill="#000" color="#000" font-weight="bold" >d</text>
<rect x="532.10" y="77.00" width="8.50" height="184.00" fill="#d9ead3" stroke="none" stroke-width="0" />
<rect x="602.60" y="57.20" width="8.00" height="203.80" fill="#d9ead3" stroke="none" stroke-width="0" />
<path d="M533.50,79.30 H539.60 L536.55,86.90 Z" fill="#1ea2da"/>
<path d="M603.90,59.80 H609.70 L606.80,66.80 Z" fill="#1ea2da"/>
<text x="455.70" y="39.60" font-size="11" text-anchor="end" fill="#1a1a1a" color="#1a1a1a" font-weight="normal" >Scale</text>
<line x1="502.20" y1="37.50" x2="578.30" y2="37.50" stroke="#2a2a2a" stroke-width="1.3" />
<line x1="502.20" y1="35.30" x2="502.20" y2="39.70" stroke="#2a2a2a" stroke-width="1.2" />
<line x1="578.30" y1="35.30" x2="578.30" y2="39.70" stroke="#2a2a2a" stroke-width="1.2" />
<text x="540.50" y="34.90" font-size="11" text-anchor="middle" fill="#1a1a1a" color="#1a1a1a" font-weight="normal" >10 kb</text>
<text x="455.90" y="55.90" font-size="11" text-anchor="end" fill="#1a1a1a" color="#1a1a1a" font-weight="normal" >Genes:</text>
<rect x="528.40" y="54.90" width="22.00" height="2.40" fill="#2b2f8f" stroke="none" stroke-width="0" />
<line x1="554.60" y1="56.10" x2="559.80" y2="56.10" stroke="#1f2370" stroke-width="1.3" />
<rect x="550.40" y="54.10" width="4.20" height="4.00" fill="#2b2f8f" stroke="none" stroke-width="0" />
<rect x="559.80" y="54.10" width="8.00" height="4.00" fill="#2b2f8f" stroke="none" stroke-width="0" />
<path d="M567.00,54.10 V48.80 H560.50" fill="none" stroke="#111" stroke-width="1.4"/>
<path d="M557.00,48.80 l4.6,-2.3 v4.6 z" fill="#111"/>
<text x="569.70" y="56.60" font-size="11" text-anchor="start" fill="#1a1a1a" color="#1a1a1a" font-weight="normal" >Irf2bp2</text>
<line x1="458.60" y1="30.00" x2="458.60" y2="264.00" stroke="#f0dada" stroke-width="1" />
<text x="456.10" y="72.80" font-size="11" text-anchor="end" fill="#1a1a1a" color="#1a1a1a" font-weight="normal" >1,200-</text>
<text x="456.10" y="95.30" font-size="11" text-anchor="end" fill="#1a1a1a" color="#1a1a1a" font-weight="normal" >0-</text>
<text x="461.00" y="76.40" font-size="11" text-anchor="start" fill="#1a1a1a" color="#1a1a1a" font-weight="normal" >p300</text>
<text x="620.60" y="83.30" font-size="11" text-anchor="start" fill="#3c3c9a" color="#3c3c9a" font-weight="normal" >MEL</text>
<text x="456.10" y="104.80" font-size="11" text-anchor="end" fill="#1a1a1a" color="#1a1a1a" font-weight="normal" >100-</text>
<text x="456.10" y="121.80" font-size="11" text-anchor="end" fill="#1a1a1a" color="#1a1a1a" font-weight="normal" >0-</text>
<text x="461.00" y="105.20" font-size="11" text-anchor="start" fill="#1a1a1a" color="#1a1a1a" font-weight="normal" >DNAseI</text>
<text x="620.60" y="112.10" font-size="11" text-anchor="start" fill="#3c3c9a" color="#3c3c9a" font-weight="normal" >FL E14.5</text>
<text x="456.10" y="131.60" font-size="11" text-anchor="end" fill="#1a1a1a" color="#1a1a1a" font-weight="normal" >100-</text>
<text x="456.10" y="150.00" font-size="11" text-anchor="end" fill="#1a1a1a" color="#1a1a1a" font-weight="normal" >0-</text>
<text x="461.00" y="133.00" font-size="11" text-anchor="start" fill="#1a1a1a" color="#1a1a1a" font-weight="normal" >DNAseI</text>
<text x="620.60" y="139.70" font-size="11" text-anchor="start" fill="#3c3c9a" color="#3c3c9a" font-weight="normal" >MEL</text>
<text x="456.10" y="160.80" font-size="11" text-anchor="end" fill="#1a1a1a" color="#1a1a1a" font-weight="normal" >100-</text>
<text x="456.10" y="178.10" font-size="11" text-anchor="end" fill="#1a1a1a" color="#1a1a1a" font-weight="normal" >0-</text>
<text x="461.00" y="161.60" font-size="11" text-anchor="start" fill="#1a1a1a" color="#1a1a1a" font-weight="normal" >DNAseI</text>
<text x="620.60" y="168.10" font-size="11" text-anchor="start" fill="#3c3c9a" color="#3c3c9a" font-weight="normal" >Brain</text>
<text x="456.10" y="187.50" font-size="11" text-anchor="end" fill="#1a1a1a" color="#1a1a1a" font-weight="normal" >20-</text>
<text x="456.10" y="205.40" font-size="11" text-anchor="end" fill="#1a1a1a" color="#1a1a1a" font-weight="normal" >0-</text>
<text x="461.00" y="190.40" font-size="11" text-anchor="start" fill="#1a1a1a" color="#1a1a1a" font-weight="normal" >H3K27Ac</text>
<text x="620.60" y="196.60" font-size="11" text-anchor="start" fill="#3c3c9a" color="#3c3c9a" font-weight="normal" >FL E14.5</text>
<text x="456.10" y="214.50" font-size="11" text-anchor="end" fill="#1a1a1a" color="#1a1a1a" font-weight="normal" >20-</text>
<text x="456.10" y="233.20" font-size="11" text-anchor="end" fill="#1a1a1a" color="#1a1a1a" font-weight="normal" >0-</text>
<text x="461.00" y="217.30" font-size="11" text-anchor="start" fill="#1a1a1a" color="#1a1a1a" font-weight="normal" >H3K27Ac</text>
<text x="620.60" y="225.00" font-size="11" text-anchor="start" fill="#3c3c9a" color="#3c3c9a" font-weight="normal" >MEL</text>
<text x="456.10" y="243.50" font-size="11" text-anchor="end" fill="#1a1a1a" color="#1a1a1a" font-weight="normal" >20-</text>
<text x="456.10" y="263.40" font-size="11" text-anchor="end" fill="#1a1a1a" color="#1a1a1a" font-weight="normal" >0-</text>
<text x="461.00" y="245.00" font-size="11" text-anchor="start" fill="#1a1a1a" color="#1a1a1a" font-weight="normal" >H3K27Ac</text>
<text x="620.60" y="252.90" font-size="11" text-anchor="start" fill="#3c3c9a" color="#3c3c9a" font-weight="normal" >Brain</text>
<line x1="459.00" y1="93.00" x2="619.00" y2="93.00" stroke="#8a8a8a" stroke-width="1" />
<path d="M459.0,92.8V92.6H461.0V92.5H462.0V92.4H462.5V92.3H463.5V92.4H464.0V92.5H464.5V92.6H470.0V92.7H472.5V92.6H474.0V92.5H476.0V92.4H477.0V92.5H477.5V92.6H478.0V92.7H478.5V92.8H480.0V92.7H482.0V92.8H483.5V92.7H484.0V92.6H484.5V92.4H485.0V92.2H485.5V92.0H486.5V92.2H487.0V92.4H487.5V92.6H488.0V92.7H488.5V92.8H489.5V92.7H490.0V92.5H490.5V92.3H491.0V92.2H493.0V92.3H494.0V92.4H494.5V92.5H495.5V92.3H496.0V92.0H496.5V91.8H497.5V92.0H498.0V92.3H498.5V92.7H499.0V92.8H502.0V92.7H502.5V92.6H503.5V92.7H504.5V92.8H506.0V92.7H506.5V92.2H507.0V91.8H507.5V91.4H508.0V91.3H509.0V91.5H509.5V91.9H510.0V92.4H510.5V92.8H512.0V92.7H513.0V92.6H515.5V92.5H516.5V92.4H518.0V92.5H518.5V92.4H519.0V92.2H519.5V92.0H520.5V92.2H521.0V92.4H521.5V92.5H522.0V92.6H524.0V92.5H526.0V92.6H527.5V92.7H529.5V92.6H530.0V92.4H530.5V92.3H531.0V92.2H532.5V91.9H533.0V91.5H533.5V91.2H534.0V90.9H534.5V90.7H535.0V89.6H535.5V88.8H536.0V88.5H537.0V89.1H537.5V90.0H538.0V91.2H538.5V92.5H539.0V92.7H543.5V92.8H545.5V92.7H546.0V92.6H546.5V92.5H547.0V92.4H547.5V92.5H548.0V92.6H550.0V92.5H550.5V92.4H551.5V92.5H552.0V92.6H553.5V92.5H554.0V92.4H554.5V92.3H557.0V92.4H557.5V92.6H558.0V92.7H558.5V92.8H561.0V92.7H561.5V92.6H562.0V92.5H562.5V92.4H563.0V92.3H563.5V92.4H564.0V92.5H564.5V92.3H565.0V92.0H565.5V91.8H566.5V92.0H567.0V92.3H567.5V92.4H568.0V92.5H568.5V92.6H569.0V92.7H570.0V92.8H571.5V92.7H572.0V92.6H573.0V92.5H574.0V92.4H575.0V91.9H575.5V91.5H576.0V91.3H577.0V91.4H577.5V91.8H578.0V92.2H578.5V92.7H579.0V92.8H580.0V92.7H581.5V92.6H582.0V92.4H582.5V92.3H584.0V92.4H585.0V92.5H585.5V92.6H586.0V92.7H586.5V92.8H588.5V91.0H589.0V88.5H589.5V86.9H590.0V86.2H591.0V86.9H591.5V88.5H592.0V91.0H592.5V92.8H593.5V92.7H594.0V92.6H594.5V92.5H595.0V92.4H595.5V92.6H596.0V92.7H598.5V92.6H601.0V92.7H603.5V88.9H604.0V82.9H604.5V77.3H605.0V72.5H605.5V69.8H606.0V70.3H606.5V74.3H607.0V79.5H607.5V85.2H608.0V91.5H608.5V92.5H609.0V92.6H610.0V92.7H610.5V92.8H611.5V92.7H612.0V92.4H612.5V91.6H613.0V91.0H613.5V90.8H614.0V90.9H614.5V91.4H615.0V92.2H615.5V92.7H617.5V92.6H618.0V92.5H618.5V92.3H619.0V92.8Z" fill="#111111"/>
<path d="M465.5,120.7V118.5H466.0V118.4H466.5V118.3H467.0V118.2H469.5V118.3H470.0V118.6H470.5V118.8H471.0V119.0H471.5V119.1H472.0V119.2H474.0V119.1H474.5V119.0H475.0V118.9H475.5V118.8H476.5V118.9H477.5V118.8H478.0V118.6H478.5V118.3H479.0V118.0H479.5V117.8H480.0V117.9H480.5V118.0H481.0V118.1H482.0V118.2H483.0V118.3H484.0V113.1H484.5V107.6H485.0V105.4H485.5V105.2H486.0V105.3H486.5V106.9H487.0V111.7H487.5V116.7H488.5V116.8H489.0V117.3H489.5V118.2H490.0V118.3H490.5V117.7H491.0V117.3H491.5V117.2H492.5V117.3H493.0V117.7H493.5V118.3H495.0V116.2H495.5V111.5H496.0V109.4H496.5V109.1H497.5V110.0H498.0V111.5H498.5V110.8H499.0V108.1H499.5V105.1H500.0V104.0H501.0V104.1H501.5V105.5H502.0V109.0H502.5V111.2H503.0V112.2H503.5V113.8H504.0V116.1H504.5V117.7H505.5V117.8H506.0V118.1H506.5V118.8H507.0V118.6H507.5V116.1H508.0V114.6H508.5V113.9H509.0V113.7H510.0V113.9H510.5V114.6H511.0V116.1H511.5V118.6H512.0V118.9H512.5V118.1H513.0V117.8H513.5V117.7H514.5V117.8H515.5V117.6H516.0V117.9H516.5V118.2H517.0V118.4H517.5V117.7H518.0V117.3H518.5V117.2H519.5V117.3H520.0V117.7H520.5V118.2H521.0V117.6H521.5V117.3H523.0V117.4H523.5V117.7H524.0V118.2H524.5V118.7H525.0V118.5H525.5V116.0H526.0V114.7H526.5V114.2H527.5V114.3H528.0V114.9H528.5V116.4H529.0V117.2H529.5V116.6H530.0V116.3H530.5V116.2H531.5V116.3H532.0V116.6H532.5V116.1H533.0V115.8H533.5V115.2H534.5V108.7H535.0V101.7H535.5V98.7H536.0V98.2H537.0V99.5H537.5V103.9H538.0V108.9H538.5V109.7H539.0V111.5H539.5V114.4H540.0V114.7H540.5V114.8H541.0V113.6H541.5V112.1H542.0V103.8H542.5V99.6H543.0V98.7H544.0V99.6H544.5V103.8H545.0V112.1H545.5V113.6H546.0V115.2H547.0V115.7H548.0V115.8H548.5V116.1H549.0V116.9H549.5V116.1H550.0V115.8H550.5V115.7H551.5V115.8H552.0V116.1H552.5V116.9H553.0V116.1H553.5V115.8H554.0V115.7H555.0V115.8H555.5V114.9H556.0V108.1H556.5V103.1H557.0V101.7H558.0V102.2H558.5V105.6H559.0V113.4H559.5V116.0H560.0V114.5H560.5V113.8H561.0V113.7H562.0V114.3H562.5V115.9H563.0V116.7H564.0V116.8H564.5V117.0H565.5V115.4H566.0V114.8H566.5V114.7H567.5V115.2H568.0V116.6H568.5V117.7H569.5V117.8H570.0V118.1H571.5V98.7H579.0V115.5H579.5V114.8H580.0V114.7H581.0V114.8H581.5V115.5H582.0V115.8H582.5V115.7H583.5V115.8H584.0V116.1H584.5V114.7H585.0V113.9H585.5V113.7H586.5V113.9H587.0V114.7H587.5V116.4H588.0V114.6H588.5V112.8H589.0V105.7H589.5V100.5H590.0V98.8H590.5V98.7H591.0V98.9H591.5V101.2H592.0V107.2H592.5V113.1H593.0V115.1H593.5V117.7H595.0V118.0H595.5V118.4H596.0V118.7H596.5V118.4H597.0V118.2H599.0V117.6H599.5V117.0H600.0V116.8H600.5V116.7H601.0V113.7H602.5V112.6H603.0V111.2H603.5V110.1H604.0V108.2H604.5V102.1H605.0V99.3H605.5V98.7H606.5V99.3H607.0V102.1H607.5V108.2H608.0V110.1H608.5V111.2H609.0V112.6H609.5V113.7H611.0V115.2H611.5V116.1H612.0V117.5H612.5V118.9H613.0V117.7H613.5V116.9H614.0V116.7H615.0V116.8H615.5V117.3H616.0V118.6H616.5V119.0H617.0V119.1H618.0V119.0H618.5V118.9H619.0V118.7H620.0V118.8H620.5V118.9H621.0V119.0H621.5V120.7Z" fill="#e69633"/>
<path d="M462.0,148.0V146.8H462.5V146.6H463.0V146.5H463.5V146.3H464.0V146.2H465.0V146.0H465.5V145.4H466.0V145.1H466.5V145.0H467.5V145.1H468.0V145.4H468.5V146.0H469.0V146.6H469.5V146.8H470.0V146.9H470.5V145.9H471.0V145.3H471.5V145.0H473.0V145.1H473.5V145.5H474.0V146.2H474.5V146.9H476.0V146.8H476.5V146.6H477.0V146.4H477.5V146.2H478.5V146.5H479.0V146.7H479.5V146.9H480.5V146.8H481.0V146.7H481.5V146.5H482.5V146.6H483.0V146.7H483.5V142.3H484.0V139.6H484.5V138.3H485.0V138.0H486.0V138.3H486.5V139.6H487.0V142.3H487.5V142.4H488.0V141.3H488.5V141.0H489.5V141.1H490.0V141.8H490.5V143.5H491.0V144.6H491.5V144.5H492.5V144.6H493.0V144.9H493.5V144.6H494.0V144.5H495.5V140.5H496.0V138.2H496.5V137.3H497.0V137.2H498.0V137.9H498.5V139.6H499.0V137.6H499.5V131.2H500.0V127.9H500.5V127.0H501.5V127.3H502.0V129.5H502.5V134.6H503.0V138.0H504.0V138.2H504.5V139.2H505.0V141.4H505.5V144.1H506.0V144.0H507.0V143.9H507.5V138.9H508.0V135.9H508.5V134.5H509.0V134.2H510.0V134.5H510.5V135.9H511.0V138.9H511.5V142.0H512.5V142.2H513.0V142.9H513.5V144.4H514.0V145.0H515.0V145.1H515.5V145.4H516.0V145.9H516.5V146.1H517.0V143.7H517.5V142.3H518.0V141.6H518.5V141.5H519.5V141.6H520.0V142.3H520.5V143.7H521.0V146.1H521.5V146.4H522.0V146.1H522.5V146.0H524.0V146.1H524.5V146.5H525.0V146.4H525.5V145.6H526.0V145.2H526.5V145.0H528.0V145.2H528.5V145.7H529.0V146.0H529.5V145.4H530.0V145.1H530.5V145.0H531.5V145.1H532.0V145.4H532.5V145.5H534.0V144.6H534.5V140.6H535.0V138.2H535.5V137.2H536.0V137.0H537.0V137.4H537.5V138.9H538.0V142.0H538.5V143.4H539.0V143.0H540.5V143.3H541.0V144.0H541.5V141.7H542.0V138.7H542.5V137.3H543.0V137.0H544.0V137.3H544.5V138.7H545.0V141.7H545.5V145.0H546.0V145.1H546.5V145.5H548.0V145.3H548.5V143.4H549.0V142.4H549.5V142.0H551.0V142.3H551.5V143.2H552.0V144.8H552.5V143.6H553.0V140.8H553.5V139.4H554.0V139.0H555.0V139.1H555.5V140.1H556.0V138.4H556.5V136.5H557.0V136.0H558.0V136.2H558.5V137.4H559.0V140.4H559.5V144.2H560.0V144.0H561.5V144.3H562.0V145.0H562.5V146.2H563.0V146.5H563.5V146.6H564.0V146.7H564.5V146.2H565.0V145.0H565.5V144.3H566.0V144.0H567.5V144.2H568.0V144.8H568.5V145.9H569.0V146.7H569.5V146.8H570.0V146.9H571.5V126.0H578.5V141.9H579.0V140.6H579.5V140.0H581.0V140.4H581.5V141.6H582.0V142.0H583.5V141.2H584.0V141.0H585.0V141.1H585.5V141.7H586.0V142.0H586.5V141.2H587.0V139.6H587.5V139.1H588.0V139.0H588.5V138.5H589.0V131.4H589.5V127.4H590.0V126.1H590.5V126.0H591.0V126.2H591.5V128.0H592.0V132.6H592.5V138.7H593.0V140.1H593.5V142.1H594.0V144.7H594.5V144.5H595.0V144.1H595.5V144.0H596.5V144.1H597.0V144.5H597.5V145.4H598.0V145.1H598.5V145.0H599.5V144.8H600.0V142.7H600.5V141.5H601.0V141.0H602.5V141.4H603.0V141.5H603.5V140.0H604.0V135.5H604.5V129.4H605.0V126.6H605.5V126.0H606.5V126.6H607.0V129.4H607.5V135.5H608.0V140.0H608.5V141.5H609.0V143.5H609.5V145.0H611.0V145.2H611.5V145.6H612.0V146.0H612.5V146.2H613.0V145.3H613.5V143.4H614.0V142.4H614.5V142.0H616.0V142.3H616.5V143.2H617.0V144.8H617.5V146.0H619.0V146.2H619.5V145.8H620.0V145.7H620.5V145.9H621.0V146.1H621.5V146.2H622.0V148.0Z" fill="#111111"/>
<path d="M463.0,176.5V175.8H463.5V175.7H464.0V175.5H464.5V175.3H465.0V175.2H466.0V175.3H467.0V175.2H467.5V175.1H468.0V175.0H468.5V174.9H469.0V175.0H469.5V175.2H470.0V175.5H470.5V175.7H471.0V175.8H473.0V175.7H473.5V175.6H474.0V175.4H474.5V175.3H475.0V175.2H476.5V175.3H477.0V175.4H477.5V175.5H478.0V175.6H478.5V175.7H479.5V175.6H480.0V175.5H480.5V175.3H481.5V175.4H482.0V175.5H482.5V175.6H483.5V175.5H484.0V174.8H484.5V174.5H486.0V174.8H486.5V175.3H487.0V175.9H487.5V175.6H488.0V175.3H489.5V175.5H490.0V175.3H490.5V175.0H491.5V175.2H492.0V175.3H492.5V174.8H493.0V174.5H494.5V174.8H495.0V174.1H495.5V172.9H496.0V172.2H496.5V172.0H497.5V172.2H498.0V172.9H498.5V174.1H499.0V173.4H499.5V171.6H500.0V164.6H500.5V156.2H501.0V153.8H502.0V156.2H502.5V164.6H503.0V171.6H503.5V173.4H504.0V175.3H505.0V175.4H505.5V175.5H506.0V175.7H506.5V175.4H507.0V174.6H507.5V174.2H508.0V174.0H509.0V174.1H509.5V174.4H510.0V175.0H510.5V175.8H512.5V175.7H513.5V175.8H514.5V175.9H516.0V175.8H517.0V175.7H517.5V175.5H518.0V175.2H518.5V174.9H519.5V175.1H520.0V175.3H520.5V175.5H521.5V175.3H522.0V175.1H522.5V174.9H523.0V174.8H523.5V175.1H524.0V175.3H524.5V175.5H525.0V175.6H525.5V175.5H526.0V175.4H527.0V175.3H527.5V175.2H528.0V175.1H528.5V175.0H529.5V175.1H530.5V175.2H531.0V175.3H531.5V175.5H532.0V175.7H532.5V175.8H533.5V175.7H534.0V175.6H534.5V175.5H535.0V174.7H535.5V174.0H536.0V173.6H536.5V173.5H537.5V173.7H538.0V174.2H538.5V175.1H539.0V175.8H540.0V175.9H541.0V175.8H541.5V175.6H542.0V175.4H542.5V175.1H543.0V175.0H543.5V175.2H544.0V175.3H544.5V174.9H545.0V174.6H545.5V174.5H546.5V174.6H547.0V174.9H547.5V175.5H548.0V175.7H548.5V174.7H549.0V173.5H549.5V172.8H550.0V172.5H551.0V172.6H551.5V173.1H552.0V174.1H552.5V175.2H553.0V175.1H553.5V175.2H554.0V175.4H554.5V175.1H555.0V173.2H555.5V172.1H556.0V171.6H556.5V171.5H557.5V171.9H558.0V173.0H558.5V174.6H559.5V174.5H560.5V174.6H561.0V174.9H561.5V175.5H562.0V175.8H564.0V175.9H565.5V175.7H566.0V175.5H566.5V175.3H567.5V175.5H568.0V175.7H568.5V175.8H570.0V175.7H570.5V175.5H571.5V154.5H574.0V159.5H575.5V154.5H577.5V159.5H579.5V162.2H580.0V165.7H580.5V167.5H581.5V168.0H582.0V166.7H582.5V163.6H583.0V162.5H584.0V163.0H584.5V165.2H585.0V169.7H585.5V167.4H586.0V166.5H587.0V166.9H587.5V168.7H588.0V170.5H588.5V168.4H589.0V159.3H589.5V155.1H590.0V154.5H590.5V154.7H591.0V158.1H591.5V166.2H592.0V171.5H592.5V171.9H593.0V173.3H593.5V175.5H594.0V175.3H594.5V175.1H595.0V174.9H596.5V174.8H597.0V175.0H597.5V175.4H598.0V175.6H598.5V175.8H599.0V175.9H601.0V175.8H601.5V175.7H602.0V175.5H602.5V175.3H603.0V175.2H603.5V175.1H604.0V174.7H604.5V174.5H606.0V174.7H606.5V175.2H607.0V175.9H607.5V175.7H608.0V175.6H608.5V175.3H609.0V175.2H609.5V175.1H610.0V175.0H610.5V174.9H611.5V175.1H612.0V175.3H612.5V175.5H613.0V175.6H614.5V175.7H615.0V175.6H616.0V175.5H617.0V175.3H617.5V175.2H618.0V175.1H618.5V174.9H619.0V175.0H619.5V175.2H620.0V176.5Z" fill="#8c8c8c"/>
<path d="M460.0,204.8V203.1H460.5V203.5H461.0V203.8H461.5V204.0H462.5V203.8H463.0V203.6H463.5V203.4H464.5V203.6H465.0V203.8H465.5V203.9H466.5V203.6H467.0V203.4H467.5V203.0H468.5V203.4H469.0V203.7H469.5V203.9H470.0V204.0H470.5V203.8H471.0V203.5H471.5V203.2H472.0V203.1H472.5V203.2H473.5V203.3H474.5V203.2H475.5V203.1H476.0V203.0H477.0V202.9H477.5V202.8H478.0V203.0H478.5V203.3H479.0V203.6H479.5V203.8H480.0V203.9H480.5V203.8H481.0V203.5H481.5V203.3H482.0V203.1H482.5V203.0H483.0V202.9H483.5V202.8H486.0V202.9H486.5V203.0H487.0V203.1H487.5V203.3H488.0V203.5H488.5V202.7H489.0V202.1H489.5V201.6H490.0V201.2H490.5V201.0H491.0V200.8H493.0V201.0H493.5V201.2H494.0V201.3H494.5V200.3H495.0V199.4H495.5V198.8H496.0V198.2H496.5V197.8H497.0V197.6H497.5V197.4H499.0V197.5H499.5V197.6H500.0V198.0H500.5V198.4H501.0V199.0H501.5V199.8H502.0V200.7H502.5V200.8H504.0V201.0H504.5V201.2H505.0V201.6H505.5V202.1H506.0V202.7H506.5V203.5H507.0V203.4H507.5V203.2H508.0V203.0H508.5V202.9H509.0V202.8H511.0V202.9H511.5V203.0H512.0V203.2H512.5V203.4H513.0V203.7H514.5V203.6H515.0V203.5H515.5V203.4H516.0V203.3H517.0V203.2H517.5V203.0H518.5V203.1H519.0V203.2H519.5V203.4H520.5V203.5H521.0V203.6H521.5V203.1H522.0V202.2H522.5V201.6H523.0V201.1H523.5V200.9H524.0V200.8H525.0V200.9H525.5V201.1H526.0V201.6H526.5V202.2H527.0V203.1H527.5V203.5H528.5V202.6H529.0V201.3H529.5V200.4H530.0V199.6H530.5V199.1H531.0V198.9H531.5V198.8H532.5V198.9H533.0V199.1H533.5V198.9H534.0V197.9H534.5V197.2H535.0V196.9H535.5V196.8H536.5V196.9H537.0V197.2H537.5V197.1H538.0V195.1H538.5V193.7H539.0V193.0H539.5V192.8H540.5V190.3H541.0V188.3H541.5V187.2H542.0V187.0H543.0V187.5H543.5V189.0H544.0V191.5H544.5V195.1H545.0V196.0H545.5V195.8H546.5V196.0H547.0V196.5H547.5V197.5H548.0V199.0H548.5V199.6H549.0V198.3H549.5V197.4H550.0V196.9H550.5V196.8H551.5V196.9H552.0V197.4H552.5V198.3H553.0V199.6H553.5V199.3H554.0V198.9H554.5V198.8H555.5V198.9H556.0V199.3H556.5V199.9H557.0V199.1H557.5V198.3H558.0V197.9H558.5V197.8H559.5V197.9H560.0V198.3H560.5V199.1H561.0V200.3H561.5V200.2H562.0V199.9H562.5V199.8H563.5V199.9H564.0V200.2H564.5V200.7H565.0V199.9H565.5V199.3H566.0V198.9H566.5V198.8H567.5V198.9H568.0V199.3H568.5V199.9H569.0V200.9H569.5V200.3H570.0V199.1H570.5V198.3H571.0V197.9H571.5V197.8H572.5V197.9H573.0V194.8H573.5V190.6H574.0V187.9H574.5V186.5H575.0V186.2H576.0V186.9H576.5V188.8H577.0V192.1H577.5V194.8H578.5V193.4H579.0V191.0H579.5V189.9H580.0V189.8H580.5V189.9H581.0V190.7H581.5V192.8H582.0V196.2H582.5V195.2H583.0V194.8H584.0V194.9H584.5V195.7H585.0V197.2H585.5V199.4H586.0V199.8H587.0V199.9H587.5V200.2H588.0V200.7H588.5V200.5H589.0V200.0H589.5V199.8H591.0V200.0H591.5V200.4H592.0V201.0H592.5V202.0H593.0V203.2H593.5V202.9H594.0V202.4H594.5V202.0H595.0V201.9H595.5V201.8H596.5V201.9H597.0V202.0H597.5V202.4H598.0V202.9H598.5V203.5H599.0V203.4H599.5V202.7H600.0V199.9H600.5V197.7H601.0V196.1H601.5V195.2H602.0V194.8H603.0V194.9H603.5V195.3H604.0V196.4H604.5V198.1H605.0V197.9H605.5V197.8H606.5V197.9H607.0V197.2H607.5V195.7H608.0V194.9H608.5V194.8H609.5V195.2H610.0V196.2H610.5V198.0H611.0V200.6H611.5V200.8H612.5V200.9H613.0V201.1H613.5V201.6H614.0V202.2H614.5V203.1H615.0V203.3H617.0V203.4H617.5V203.6H618.0V203.5H618.5V203.4H619.0V203.2H619.5V204.8Z" fill="#e69633"/>
<path d="M468.7,232.6V231.3H469.7V231.2H476.7V231.1H477.7V231.0H478.2V230.9H478.7V231.0H479.2V231.1H479.7V231.3H480.2V231.4H481.2V231.3H481.7V231.1H482.2V230.2H482.7V229.5H483.2V229.0H483.7V228.7H484.2V228.6H485.7V228.3H486.2V227.4H486.7V226.9H487.2V226.6H488.7V226.8H489.2V227.3H489.7V226.9H490.2V225.7H490.7V225.0H491.2V224.6H492.7V224.9H493.2V225.5H493.7V226.6H494.2V226.1H494.7V225.7H495.2V225.6H496.2V226.0H496.7V226.8H497.2V228.0H497.7V223.6H498.2V220.6H498.7V219.0H499.2V218.6H500.2V219.0H500.7V220.6H501.2V223.6H501.7V224.6H502.7V224.9H503.2V225.7H503.7V226.1H504.2V225.7H504.7V225.6H505.7V226.0H506.2V226.8H506.7V227.0H507.2V226.6H508.7V226.9H509.2V227.6H509.7V228.8H510.2V228.3H510.7V227.8H511.2V227.6H512.7V227.8H513.2V228.2H513.7V228.8H514.2V229.8H514.7V229.7H515.2V229.6H516.7V229.7H517.2V229.9H517.7V230.3H518.2V230.9H518.7V230.4H519.2V230.0H519.7V229.7H520.2V229.6H521.7V229.7H522.2V229.9H522.7V230.3H523.2V230.9H523.7V230.8H524.2V230.4H524.7V230.2H525.2V230.1H526.7V230.2H527.2V230.4H527.7V230.7H528.2V231.0H528.7V230.8H529.2V230.0H529.7V229.0H530.2V228.3H530.7V227.8H531.2V227.6H532.7V227.8H533.2V228.2H533.7V228.3H534.2V227.4H534.7V226.9H535.2V226.6H536.7V226.8H537.2V227.3H537.7V228.1H538.2V227.4H538.7V226.9H539.2V226.6H540.7V226.3H541.2V224.5H541.7V223.3H542.2V222.7H542.7V222.6H543.7V222.9H544.2V223.7H544.7V225.1H545.2V227.2H545.7V226.9H546.2V226.6H547.7V226.8H548.2V227.3H548.7V227.6H549.2V226.6H549.7V225.9H550.2V225.6H551.7V225.8H552.2V226.4H552.7V227.3H553.2V228.7H553.7V229.6H554.2V226.6H554.7V224.4H555.2V222.8H555.7V221.9H556.2V221.6H557.2V221.7H557.7V222.4H558.2V223.7H558.7V225.0H559.2V224.6H560.7V224.9H561.2V225.5H561.7V226.6H562.2V224.8H562.7V223.5H563.2V222.8H563.7V222.6H564.7V222.8H565.2V223.5H565.7V224.8H566.2V226.6H566.7V225.9H567.2V225.6H568.7V225.8H569.2V226.4H569.7V227.3H570.2V227.9H570.7V226.0H571.2V225.1H571.7V225.0H572.7V225.8H573.2V210.3H576.7V220.8H578.7V210.3H589.2V221.2H591.2V210.3H594.2V217.6H595.7V219.0H596.7V214.6H597.7V210.3H605.2V221.6H607.2V213.3H610.2V227.2H610.7V227.1H611.7V227.6H612.2V228.9H612.7V229.7H613.2V228.4H613.7V227.9H614.2V227.8H615.2V228.3H615.7V229.4H616.2V230.1H617.7V230.3H618.2V230.9H618.7V231.5H619.2V231.4H619.7V231.2H620.2V231.0H620.7V232.6Z" fill="#111111"/>
<path d="M462.0,259.9V259.1H462.5V259.0H463.0V258.9H464.0V258.8H465.0V258.7H466.0V258.8H466.5V258.9H467.0V259.1H467.5V259.2H468.0V259.3H468.5V259.2H469.0V259.1H469.5V258.9H472.5V259.0H474.0V259.1H474.5V259.2H475.0V259.3H476.0V259.4H479.0V259.3H480.0V259.2H480.5V259.1H481.0V259.0H481.5V258.9H482.0V259.0H482.5V259.1H483.0V259.2H483.5V259.3H485.0V259.2H487.5V259.3H488.0V259.2H488.5V259.1H489.0V259.0H489.5V258.9H490.0V258.8H490.5V258.7H492.0V258.2H492.5V257.8H493.0V257.5H493.5V257.3H494.0V257.1H494.5V257.0H495.0V256.9H497.0V257.0H497.5V257.1H498.0V256.7H498.5V256.4H499.0V256.1H499.5V256.0H500.0V255.9H502.0V256.0H502.5V256.2H503.0V256.5H503.5V256.8H504.0V256.9H506.0V257.0H506.5V257.2H507.0V257.5H507.5V257.9H508.0V258.4H508.5V258.9H509.0V258.8H509.5V258.7H510.0V258.8H510.5V259.0H511.0V259.1H511.5V259.3H513.0V259.2H513.5V259.1H514.5V259.0H515.0V258.9H515.5V258.8H516.5V258.9H517.5V259.0H518.5V259.1H519.0V259.2H519.5V259.3H521.0V259.4H522.0V259.3H522.5V259.2H523.0V259.0H523.5V258.8H524.0V258.7H524.5V258.9H525.0V259.0H525.5V259.1H526.5V259.0H527.0V258.8H527.5V258.7H528.5V259.0H529.0V259.2H529.5V259.3H530.5V259.2H531.0V259.1H531.5V258.9H532.0V258.8H535.0V258.7H536.0V258.8H536.5V259.0H537.0V258.6H537.5V258.2H538.0V258.0H538.5V257.9H540.0V258.0H540.5V258.1H541.0V258.4H541.5V258.7H542.0V259.3H543.0V259.1H543.5V259.0H544.0V258.9H544.5V259.0H545.0V259.1H545.5V259.2H546.5V259.1H547.0V258.5H547.5V258.0H548.0V257.6H548.5V257.3H549.0V257.1H549.5V256.9H551.5V257.0H552.0V257.2H552.5V256.7H553.0V256.3H553.5V256.1H554.0V255.9H556.0V256.1H556.5V255.5H557.0V254.8H557.5V254.3H558.0V254.0H558.5V253.9H559.5V254.0H560.0V254.3H560.5V254.8H561.0V255.5H561.5V255.7H562.0V254.0H562.5V252.9H563.0V252.2H563.5V251.9H565.0V252.3H565.5V253.1H566.0V254.3H566.5V253.5H567.0V253.0H567.5V252.9H568.5V253.0H569.0V253.5H569.5V254.3H570.0V252.5H570.5V251.4H571.0V250.9H572.0V248.9H572.5V243.8H573.0V240.9H573.5V239.9H574.5V240.3H575.0V242.4H575.5V245.3H576.0V244.9H577.0V245.3H577.5V242.2H578.0V239.0H578.5V237.9H579.5V238.4H580.0V240.7H580.5V244.9H581.5V245.3H582.0V246.7H582.5V245.6H583.0V244.9H584.0V245.2H584.5V246.6H585.0V247.2H585.5V246.9H586.5V247.2H587.0V248.5H587.5V248.9H589.0V251.1H589.5V252.0H590.0V252.7H590.5V252.1H591.0V251.9H592.0V252.1H592.5V252.7H593.0V253.8H593.5V255.4H594.0V256.9H594.5V257.0H595.0V257.1H595.5V257.5H596.0V258.0H596.5V258.8H597.0V259.1H597.5V259.2H601.0V259.3H602.5V259.2H603.0V259.1H604.0V259.0H605.5V258.9H606.0V259.0H606.5V259.1H607.0V259.2H608.0V259.3H609.0V259.4H610.0V259.3H610.5V259.2H611.0V259.0H611.5V258.8H612.0V258.6H612.5V258.7H614.0V258.8H614.5V259.1H615.0V259.2H615.5V259.4H616.5V259.3H617.0V259.2H617.5V259.1H618.5V259.0H619.0V259.9Z" fill="#8c8c8c"/>
<line x1="571.70" y1="98.80" x2="579.50" y2="98.80" stroke="#b8242c" stroke-width="1.3" />
<line x1="604.30" y1="98.80" x2="606.50" y2="98.80" stroke="#b8242c" stroke-width="1.3" />
<line x1="571.70" y1="126.50" x2="578.60" y2="126.50" stroke="#b8242c" stroke-width="1.3" />
<line x1="589.20" y1="126.50" x2="592.20" y2="126.50" stroke="#b8242c" stroke-width="1.3" />
<line x1="604.50" y1="126.50" x2="607.50" y2="126.50" stroke="#b8242c" stroke-width="1.3" />
<line x1="572.50" y1="154.90" x2="574.00" y2="154.90" stroke="#b8242c" stroke-width="1.3" />
<line x1="576.00" y1="154.90" x2="577.30" y2="154.90" stroke="#b8242c" stroke-width="1.3" />
<line x1="589.50" y1="154.90" x2="591.20" y2="154.90" stroke="#b8242c" stroke-width="1.3" />
<line x1="579.00" y1="210.50" x2="588.70" y2="210.50" stroke="#b8242c" stroke-width="1.3" />
<line x1="591.70" y1="210.50" x2="594.30" y2="210.50" stroke="#b8242c" stroke-width="1.3" />
<line x1="600.50" y1="210.50" x2="604.40" y2="210.50" stroke="#b8242c" stroke-width="1.3" />
<text x="171.60" y="554.10" font-size="19" text-anchor="start" fill="#000" color="#000" font-weight="bold" >e</text>
<rect x="283.20" y="600.40" width="8.20" height="103.00" fill="#d9ead3" stroke="none" stroke-width="0" />
<rect x="352.50" y="584.50" width="8.80" height="119.00" fill="#d9ead3" stroke="none" stroke-width="0" />
<path d="M284.20,603.00 H290.00 L287.10,609.00 Z" fill="#1ea2da"/>
<path d="M354.20,585.60 H360.00 L357.10,591.80 Z" fill="#1ea2da"/>
<text x="207.20" y="568.00" font-size="11" text-anchor="end" fill="#1a1a1a" color="#1a1a1a" font-weight="normal" >Scale</text>
<line x1="260.60" y1="565.30" x2="336.80" y2="565.30" stroke="#2a2a2a" stroke-width="1.3" />
<line x1="260.60" y1="563.10" x2="260.60" y2="567.50" stroke="#2a2a2a" stroke-width="1.2" />
<line x1="336.80" y1="563.10" x2="336.80" y2="567.50" stroke="#2a2a2a" stroke-width="1.2" />
<text x="299.00" y="561.30" font-size="11" text-anchor="middle" fill="#1a1a1a" color="#1a1a1a" font-weight="normal" >10 kb</text>
<text x="207.20" y="580.20" font-size="11" text-anchor="end" fill="#1a1a1a" color="#1a1a1a" font-weight="normal" >Genes:</text>
<rect x="278.90" y="582.30" width="21.90" height="2.40" fill="#2b2f8f" stroke="none" stroke-width="0" />
<line x1="305.60" y1="583.50" x2="310.60" y2="583.50" stroke="#1f2370" stroke-width="1.3" />
<rect x="300.80" y="581.50" width="4.80" height="4.00" fill="#2b2f8f" stroke="none" stroke-width="0" />
<rect x="310.60" y="581.50" width="7.70" height="4.00" fill="#2b2f8f" stroke="none" stroke-width="0" />
<path d="M317.50,581.50 V575.80 H310.50" fill="none" stroke="#111" stroke-width="1.4"/>
<path d="M307.00,575.80 l4.6,-2.3 v4.6 z" fill="#111"/>
<text x="319.90" y="582.40" font-size="11" text-anchor="start" fill="#1a1a1a" color="#1a1a1a" font-weight="normal" >Irf2bp2</text>
<line x1="209.50" y1="559.00" x2="209.50" y2="703.00" stroke="#f0d4d4" stroke-width="1" />
<text x="206.80" y="596.00" font-size="11" text-anchor="end" fill="#1a1a1a" color="#1a1a1a" font-weight="normal" >49-</text>
<text x="206.80" y="608.70" font-size="11" text-anchor="end" fill="#1a1a1a" color="#1a1a1a" font-weight="normal" >0-</text>
<text x="206.80" y="624.50" font-size="11" text-anchor="end" fill="#1a1a1a" color="#1a1a1a" font-weight="normal" >97-</text>
<text x="206.80" y="639.20" font-size="11" text-anchor="end" fill="#1a1a1a" color="#1a1a1a" font-weight="normal" >0-</text>
<text x="206.80" y="656.00" font-size="11" text-anchor="end" fill="#1a1a1a" color="#1a1a1a" font-weight="normal" >31-</text>
<text x="206.80" y="668.70" font-size="11" text-anchor="end" fill="#1a1a1a" color="#1a1a1a" font-weight="normal" >0-</text>
<text x="206.80" y="685.10" font-size="11" text-anchor="end" fill="#1a1a1a" color="#1a1a1a" font-weight="normal" >77-</text>
<text x="206.80" y="699.80" font-size="11" text-anchor="end" fill="#1a1a1a" color="#1a1a1a" font-weight="normal" >0-</text>
<text x="212.20" y="601.70" font-size="11" text-anchor="start" fill="#1a1a1a" color="#1a1a1a" font-weight="normal" >LDB1</text>
<text x="212.20" y="629.10" font-size="11" text-anchor="start" fill="#1a1a1a" color="#1a1a1a" font-weight="normal" >GATA1</text>
<text x="212.20" y="657.10" font-size="11" text-anchor="start" fill="#1a1a1a" color="#1a1a1a" font-weight="normal" >ETO2</text>
<text x="212.20" y="685.50" font-size="11" text-anchor="start" fill="#1a1a1a" color="#1a1a1a" font-weight="normal" >IRF2BP2</text>
<path d="M212.5,617.8H216.5M218.5,617.8H222.5M225.0,617.8H228.0M229.5,617.8H235.5M239.5,617.8H241.5M245.5,617.8H247.5M250.0,617.8H253.0M255.0,617.8H257.5M260.5,617.8H262.0M264.5,617.8H266.5M268.5,617.8H270.0M273.0,617.8H281.0M285.0,617.8H287.5M289.5,617.8H292.5M295.0,617.8H297.0M300.0,617.8H303.0M305.0,617.8H306.5M309.5,617.8H312.5M315.0,617.8H317.0M318.5,617.8H324.5M328.5,617.8H334.5M337.0,617.8H343.0M345.5,617.8H348.5M351.5,617.8H353.5M356.5,617.8H358.0M361.0,617.8H367.0M370.0,617.8H371.5" stroke="#222" stroke-width="0.9" fill="none"/>
<path d="M212.5,645.8H214.5M218.5,645.8H221.0M223.0,645.8H227.0M231.0,645.8H233.0M236.0,645.8H238.5M242.5,645.8H245.5M249.5,645.8H253.5M255.0,645.8H261.0M265.0,645.8H269.0M273.0,645.8H279.0M283.0,645.8H285.0M288.0,645.8H291.0M293.0,645.8H297.0M299.0,645.8H300.5M302.0,645.8H308.0M310.0,645.8H314.0M318.0,645.8H321.0M325.0,645.8H333.0M335.0,645.8H341.0M345.0,645.8H349.0M351.0,645.8H354.0M358.0,645.8H361.0M364.0,645.8H370.0M371.5,645.8H373.5" stroke="#222" stroke-width="0.9" fill="none"/>
<path d="M212.5,673.6H218.5M221.5,673.6H227.5M229.5,673.6H235.5M237.0,673.6H241.0M242.5,673.6H248.5M251.5,673.6H254.5M257.0,673.6H265.0M266.5,673.6H269.5M271.0,673.6H273.0M275.0,673.6H279.0M280.5,673.6H282.0M284.0,673.6H285.5M287.5,673.6H291.5M295.5,673.6H298.0M300.0,673.6H306.0M309.0,673.6H317.0M321.0,673.6H327.0M330.0,673.6H332.0M336.0,673.6H344.0M348.0,673.6H350.0M351.5,673.6H354.0M356.0,673.6H360.0M362.0,673.6H368.0M372.0,673.6H373.5" stroke="#222" stroke-width="0.9" fill="none"/>
<path d="M212.5,701.4H214.0M216.0,701.4H222.0M224.0,701.4H227.0M229.5,701.4H231.0M233.0,701.4H241.0M242.5,701.4H244.5M246.0,701.4H248.0M249.5,701.4H251.0M253.5,701.4H256.0M257.5,701.4H265.5M267.5,701.4H271.5M274.0,701.4H277.0M279.5,701.4H283.5M285.5,701.4H291.5M294.0,701.4H297.0M298.5,701.4H301.5M304.5,701.4H308.5M310.5,701.4H313.0M315.0,701.4H323.0M327.0,701.4H328.5M330.0,701.4H331.5M335.5,701.4H343.5M345.0,701.4H353.0M355.0,701.4H357.5M361.5,701.4H364.5M367.0,701.4H368.5M371.0,701.4H373.5" stroke="#222" stroke-width="0.9" fill="none"/>
<path d="M214.0,617.3V617.3H218.5V616.8H219.0V616.3H219.5V616.1H220.5V616.3H221.0V616.8H221.5V617.3H226.5V616.8H227.0V616.5H227.5V616.3H228.5V616.5H229.0V616.8H229.5V617.3H233.0V617.0H233.5V616.4H234.0V615.9H234.5V615.8H235.0V615.9H235.5V616.3H236.0V616.9H236.5V617.3H240.5V616.8H241.0V616.3H241.5V616.1H242.5V616.3H243.0V616.8H243.5V617.3H249.0V616.4H249.5V615.7H250.0V615.1H250.5V614.8H251.5V615.1H252.0V615.7H252.5V616.4H253.0V617.3H259.0V617.1H259.5V616.0H260.0V615.1H260.5V614.8H261.5V615.4H262.0V616.4H262.5V617.3H268.0V617.2H268.5V616.7H269.0V616.3H270.0V616.5H270.5V616.9H271.0V617.3H273.5V617.1H274.0V616.6H274.5V616.3H275.5V616.6H276.0V617.1H276.5V617.3H285.0V616.5H285.5V614.7H286.0V613.4H286.5V612.8H287.0V612.9H287.5V613.8H288.0V615.4H288.5V616.9H289.0V616.2H289.5V615.8H290.5V616.2H291.0V616.9H291.5V617.3H302.0V617.0H302.5V616.3H303.0V615.8H303.5V615.4H304.0V615.3H304.5V615.4H305.0V615.7H305.5V616.2H306.0V616.9H306.5V617.3H318.5V617.1H319.0V616.6H319.5V616.3H320.5V616.6H321.0V617.1H321.5V617.3H330.0V615.6H330.5V613.9H331.0V612.9H331.5V612.8H332.0V613.4H332.5V614.9H333.0V616.9H333.5V617.3H334.5V615.9H335.0V614.9H335.5V614.3H336.5V614.9H337.0V615.9H337.5V617.3H339.5V617.1H340.0V616.6H340.5V616.3H341.5V616.6H342.0V617.1H342.5V617.3H344.0V616.6H344.5V616.0H345.0V615.8H345.5V615.9H346.0V616.5H346.5V617.3H355.0V612.6H355.5V605.1H356.0V598.3H356.5V593.8H357.0V594.7H357.5V600.9H358.0V608.0H358.5V615.7H359.0V617.3H364.5V617.2H365.0V616.5H365.5V616.0H366.0V615.8H367.0V616.2H367.5V616.7H368.0V617.3H368.5V617.1H369.0V616.6H369.5V616.3H370.5V616.6H371.0V617.1H371.5V617.3H373.5V617.3Z" fill="#111"/>
<path d="M214.0,645.3V645.3H227.0V644.9H227.5V644.5H228.5V644.9H229.0V645.3H239.0V644.9H239.5V644.5H240.5V644.9H241.0V645.3H249.0V644.8H249.5V644.3H250.5V644.8H251.0V645.3H259.0V644.7H259.5V644.3H260.5V644.7H261.0V645.3H271.0V644.7H271.5V644.3H272.5V644.7H273.0V645.3H276.0V645.0H276.5V644.3H277.0V643.8H277.5V643.4H278.0V643.3H278.5V643.4H279.0V643.7H279.5V644.2H280.0V644.9H280.5V645.3H283.5V643.9H284.0V642.9H284.5V642.3H285.5V642.9H286.0V641.0H286.5V638.4H287.0V637.3H287.5V637.4H288.0V639.3H288.5V642.3H289.0V645.3H291.0V644.7H291.5V644.3H292.5V644.7H293.0V645.3H302.5V645.1H303.0V644.6H303.5V644.3H304.5V644.6H305.0V645.1H305.5V645.3H317.0V644.7H317.5V644.3H318.5V644.7H319.0V645.3H329.0V644.7H329.5V644.3H330.5V644.7H331.0V645.3H342.0V644.7H342.5V644.3H343.5V644.7H344.0V645.3H349.0V644.3H349.5V643.8H350.5V644.3H351.0V645.3H355.0V639.4H355.5V632.4H356.0V626.0H356.5V621.8H357.0V622.6H357.5V628.4H358.0V635.1H358.5V642.3H359.0V645.3H365.0V644.7H365.5V644.3H366.5V644.7H367.0V645.3H373.5V645.3Z" fill="#111"/>
<path d="M214.0,673.1V673.1H217.0V672.2H217.5V671.1H218.0V670.2H218.5V670.1H219.0V670.4H219.5V671.3H220.0V672.5H220.5V673.1H227.0V672.0H227.5V670.9H228.0V670.2H228.5V670.1H229.0V670.5H229.5V671.5H230.0V671.6H230.5V671.1H231.5V671.6H232.0V672.6H232.5V673.1H235.5V672.5H236.0V671.3H236.5V670.4H237.0V670.1H237.5V670.2H238.0V671.1H238.5V672.2H239.0V672.1H239.5V671.6H240.5V672.1H241.0V673.1H242.0V672.2H242.5V671.5H243.0V671.1H244.0V671.5H244.5V672.2H245.0V673.1H254.0V672.8H254.5V671.5H255.0V670.5H255.5V670.1H256.0V670.2H256.5V670.9H257.0V672.0H257.5V673.1H259.0V672.8H259.5V671.5H260.0V670.5H260.5V670.1H261.0V670.2H261.5V670.9H262.0V672.0H262.5V673.1H275.5V671.5H276.0V669.3H276.5V668.1H277.5V669.3H278.0V671.5H278.5V673.1H285.5V671.4H286.0V669.8H286.5V669.1H287.0V669.2H287.5V670.4H288.0V672.2H288.5V673.1H291.5V672.0H292.0V670.9H292.5V670.2H293.0V670.1H293.5V670.5H294.0V671.5H294.5V672.8H295.0V673.1H300.0V672.7H300.5V671.9H301.0V671.3H301.5V671.1H302.0V671.2H302.5V671.7H303.0V672.5H303.5V673.1H317.0V672.5H317.5V672.1H318.5V672.5H319.0V673.1H322.5V672.5H323.0V671.7H323.5V671.2H324.0V671.1H324.5V671.3H325.0V671.9H325.5V672.7H326.0V673.1H328.5V672.4H329.0V671.9H329.5V671.6H330.5V671.9H331.0V672.4H331.5V673.1H333.5V672.3H334.0V670.7H334.5V669.5H335.0V669.1H335.5V669.3H336.0V670.4H336.5V672.0H337.0V671.5H337.5V671.1H338.5V671.5H339.0V672.2H339.5V673.1H340.0V672.2H340.5V671.5H341.0V671.1H342.0V671.5H342.5V672.2H343.0V671.5H343.5V671.1H344.5V671.5H345.0V672.2H345.5V673.1H346.0V672.2H346.5V671.1H347.0V670.2H347.5V670.1H348.0V670.4H348.5V671.3H349.0V672.5H349.5V672.2H350.0V671.5H350.5V671.1H351.5V671.5H352.0V672.2H352.5V673.1H355.0V667.3H355.5V660.5H356.0V654.2H356.5V650.1H357.0V650.9H357.5V656.6H358.0V663.2H358.5V670.2H359.0V673.1H364.0V672.9H364.5V672.0H365.0V671.4H365.5V671.1H366.5V671.6H367.0V672.4H367.5V673.1H373.5V673.1Z" fill="#111"/>
<path d="M214.0,700.9V700.7H214.5V700.6H216.5V700.7H217.0V700.8H217.5V700.9H218.0V700.8H219.0V700.7H219.5V700.6H220.5V700.7H221.0V700.8H222.0V700.9H222.5V700.8H223.0V700.5H223.5V700.3H224.0V700.0H224.5V699.9H225.5V700.0H226.0V700.3H226.5V700.5H227.0V700.8H227.5V700.7H228.5V700.8H229.5V700.9H230.5V700.8H231.0V700.4H231.5V699.9H232.0V699.6H232.5V699.4H233.5V699.6H234.0V699.9H234.5V700.4H235.0V700.6H236.0V700.7H237.5V700.8H238.0V700.4H238.5V699.9H239.0V699.6H239.5V699.4H240.5V699.6H241.0V699.9H241.5V700.4H242.0V700.6H242.5V700.7H243.0V700.8H243.5V700.9H245.0V700.8H246.0V700.7H247.0V700.6H248.0V700.4H248.5V699.9H249.0V699.6H249.5V699.4H250.5V699.6H251.0V699.9H251.5V700.4H252.0V700.8H254.0V700.2H254.5V699.6H255.0V699.1H255.5V698.9H256.5V699.1H257.0V699.6H257.5V700.2H258.0V700.9H258.5V700.8H259.5V700.7H260.0V700.2H260.5V699.6H261.0V699.1H261.5V698.9H262.5V699.1H263.0V699.6H263.5V700.2H264.0V700.9H265.5V700.8H266.0V700.4H266.5V699.9H267.0V699.6H267.5V699.4H268.5V699.6H269.0V699.9H269.5V700.4H270.0V700.8H272.5V700.7H273.0V700.4H273.5V699.9H274.0V699.6H274.5V699.4H275.5V699.6H276.0V699.9H276.5V700.4H277.0V700.7H277.5V700.8H279.0V700.5H279.5V700.3H280.0V700.0H280.5V699.9H281.5V700.0H282.0V700.3H282.5V700.5H283.0V700.9H284.5V700.8H285.5V700.7H286.0V699.6H286.5V698.4H287.0V697.9H287.5V698.0H288.0V698.8H288.5V700.2H289.0V700.6H291.0V700.5H293.5V700.3H294.0V700.0H294.5V699.9H295.5V700.0H296.0V700.3H296.5V700.5H297.0V700.7H298.0V700.6H300.5V700.7H301.0V700.8H301.5V700.9H303.0V700.5H303.5V700.3H304.0V700.0H304.5V699.9H305.5V700.0H306.0V700.3H306.5V700.5H307.0V700.9H309.0V700.8H310.5V700.7H312.5V700.6H313.0V700.5H313.5V700.3H314.0V700.0H314.5V699.9H315.5V700.0H316.0V700.3H316.5V700.5H317.0V700.8H318.0V700.7H319.0V700.6H319.5V700.5H320.0V700.4H320.5V699.9H321.0V699.6H321.5V699.4H322.5V699.6H323.0V699.9H323.5V700.4H324.0V700.8H327.5V700.7H328.0V700.4H328.5V699.9H329.0V699.6H329.5V699.4H330.5V699.6H331.0V699.9H331.5V700.4H332.0V700.7H335.0V700.8H336.5V700.7H338.0V700.6H338.5V700.7H339.0V698.2H339.5V693.8H340.0V689.7H340.5V686.4H341.5V689.7H342.0V693.8H342.5V698.2H343.0V700.7H343.5V700.6H344.5V700.7H345.0V700.8H346.0V700.9H346.5V700.4H347.0V700.1H347.5V699.9H348.5V700.1H349.0V700.4H349.5V700.8H350.0V700.7H350.5V700.8H352.5V700.7H353.5V700.6H354.5V700.7H355.0V695.6H355.5V689.4H356.0V683.6H356.5V679.9H357.0V680.7H357.5V685.8H358.0V691.8H358.5V698.2H359.0V700.9H361.0V700.8H363.5V700.2H364.0V699.7H364.5V699.4H365.5V699.7H366.0V700.2H366.5V700.7H368.5V700.8H369.5V700.9H370.5V700.8H371.0V700.7H371.5V700.6H372.0V700.5H372.5V700.6H373.5V700.9Z" fill="#111"/>
<path d="M372.60,606.80 H375.80 V688.50 H372.60" fill="none" stroke="#5252a5" stroke-width="0.95"/>
<text x="379.30" y="650.40" font-size="11" text-anchor="start" fill="#3c3c9a" color="#3c3c9a" font-weight="normal" >MEL</text>
<text x="420.30" y="300.70" font-size="19" text-anchor="start" fill="#000" color="#000" font-weight="bold" >f</text>
<rect x="532.80" y="333.30" width="9.00" height="281.50" fill="#d9ead3" stroke="none" stroke-width="0" />
<rect x="602.60" y="333.30" width="8.90" height="281.50" fill="#d9ead3" stroke="none" stroke-width="0" />
<path d="M534.80,334.00 H540.60 L537.70,342.40 Z" fill="#1ea2da"/>
<path d="M604.20,334.00 H610.00 L607.10,342.40 Z" fill="#1ea2da"/>
<text x="455.80" y="313.30" font-size="11" text-anchor="end" fill="#1a1a1a" color="#1a1a1a" font-weight="normal" >Scale</text>
<line x1="503.10" y1="310.80" x2="580.20" y2="310.80" stroke="#2a2a2a" stroke-width="1.3" />
<line x1="503.10" y1="308.60" x2="503.10" y2="313.00" stroke="#2a2a2a" stroke-width="1.2" />
<line x1="580.20" y1="308.60" x2="580.20" y2="313.00" stroke="#2a2a2a" stroke-width="1.2" />
<text x="541.70" y="307.60" font-size="11" text-anchor="middle" fill="#1a1a1a" color="#1a1a1a" font-weight="normal" >10 kb</text>
<text x="455.80" y="330.20" font-size="11" text-anchor="end" fill="#1a1a1a" color="#1a1a1a" font-weight="normal" >Genes:</text>
<rect x="529.60" y="329.00" width="22.90" height="2.40" fill="#2b2f8f" stroke="none" stroke-width="0" />
<line x1="556.10" y1="330.20" x2="561.00" y2="330.20" stroke="#1f2370" stroke-width="1.3" />
<rect x="552.50" y="328.20" width="3.60" height="4.00" fill="#2b2f8f" stroke="none" stroke-width="0" />
<rect x="561.00" y="328.20" width="5.60" height="4.00" fill="#2b2f8f" stroke="none" stroke-width="0" />
<path d="M565.80,328.20 V322.00 H561.30" fill="none" stroke="#111" stroke-width="1.4"/>
<path d="M557.80,322.00 l4.6,-2.3 v4.6 z" fill="#111"/>
<text x="569.80" y="331.80" font-size="11" text-anchor="start" fill="#1a1a1a" color="#1a1a1a" font-weight="normal" >Irf2bp2</text>
<line x1="459.60" y1="304.00" x2="459.60" y2="620.00" stroke="#f0d4d4" stroke-width="1" />
<text x="456.80" y="346.10" font-size="11" text-anchor="end" fill="#1a1a1a" color="#1a1a1a" font-weight="normal" >150-</text>
<text x="456.80" y="365.40" font-size="11" text-anchor="end" fill="#1a1a1a" color="#1a1a1a" font-weight="normal" >0-</text>
<text x="461.00" y="349.00" font-size="11" text-anchor="start" fill="#1a1a1a" color="#1a1a1a" font-weight="normal" >TAL1</text>
<text x="456.80" y="376.80" font-size="11" text-anchor="end" fill="#1a1a1a" color="#1a1a1a" font-weight="normal" >75-</text>
<text x="456.80" y="392.20" font-size="11" text-anchor="end" fill="#1a1a1a" color="#1a1a1a" font-weight="normal" >0-</text>
<text x="461.00" y="376.80" font-size="11" text-anchor="start" fill="#1a1a1a" color="#1a1a1a" font-weight="normal" >GATA1</text>
<text x="456.80" y="403.00" font-size="11" text-anchor="end" fill="#1a1a1a" color="#1a1a1a" font-weight="normal" >300-</text>
<text x="456.80" y="421.20" font-size="11" text-anchor="end" fill="#1a1a1a" color="#1a1a1a" font-weight="normal" >0-</text>
<text x="461.00" y="404.70" font-size="11" text-anchor="start" fill="#1a1a1a" color="#1a1a1a" font-weight="normal" >TAL1</text>
<text x="456.80" y="431.50" font-size="11" text-anchor="end" fill="#1a1a1a" color="#1a1a1a" font-weight="normal" >450-</text>
<text x="456.80" y="449.00" font-size="11" text-anchor="end" fill="#1a1a1a" color="#1a1a1a" font-weight="normal" >0-</text>
<text x="461.00" y="432.30" font-size="11" text-anchor="start" fill="#1a1a1a" color="#1a1a1a" font-weight="normal" >GATA1</text>
<text x="456.80" y="460.20" font-size="11" text-anchor="end" fill="#1a1a1a" color="#1a1a1a" font-weight="normal" >150-</text>
<text x="456.80" y="477.30" font-size="11" text-anchor="end" fill="#1a1a1a" color="#1a1a1a" font-weight="normal" >0-</text>
<text x="461.00" y="460.90" font-size="11" text-anchor="start" fill="#1a1a1a" color="#1a1a1a" font-weight="normal" >TAL1</text>
<text x="456.80" y="488.70" font-size="11" text-anchor="end" fill="#1a1a1a" color="#1a1a1a" font-weight="normal" >150-</text>
<text x="456.80" y="504.40" font-size="11" text-anchor="end" fill="#1a1a1a" color="#1a1a1a" font-weight="normal" >0-</text>
<text x="461.00" y="489.90" font-size="11" text-anchor="start" fill="#1a1a1a" color="#1a1a1a" font-weight="normal" >TAL1</text>
<text x="456.80" y="515.80" font-size="11" text-anchor="end" fill="#1a1a1a" color="#1a1a1a" font-weight="normal" >80-</text>
<text x="456.80" y="531.70" font-size="11" text-anchor="end" fill="#1a1a1a" color="#1a1a1a" font-weight="normal" >0-</text>
<text x="461.00" y="517.20" font-size="11" text-anchor="start" fill="#1a1a1a" color="#1a1a1a" font-weight="normal" >RNAPII</text>
<text x="456.80" y="543.10" font-size="11" text-anchor="end" fill="#1a1a1a" color="#1a1a1a" font-weight="normal" >80-</text>
<text x="456.80" y="560.00" font-size="11" text-anchor="end" fill="#1a1a1a" color="#1a1a1a" font-weight="normal" >0-</text>
<text x="461.00" y="544.30" font-size="11" text-anchor="start" fill="#1a1a1a" color="#1a1a1a" font-weight="normal" >RNAPII</text>
<text x="456.80" y="570.90" font-size="11" text-anchor="end" fill="#1a1a1a" color="#1a1a1a" font-weight="normal" >100-</text>
<text x="456.80" y="587.80" font-size="11" text-anchor="end" fill="#1a1a1a" color="#1a1a1a" font-weight="normal" >0-</text>
<text x="461.00" y="572.90" font-size="11" text-anchor="start" fill="#1a1a1a" color="#1a1a1a" font-weight="normal" >GATA1</text>
<text x="456.80" y="598.70" font-size="11" text-anchor="end" fill="#1a1a1a" color="#1a1a1a" font-weight="normal" >100-</text>
<text x="456.80" y="616.90" font-size="11" text-anchor="end" fill="#1a1a1a" color="#1a1a1a" font-weight="normal" >0-</text>
<text x="461.00" y="601.10" font-size="11" text-anchor="start" fill="#1a1a1a" color="#1a1a1a" font-weight="normal" >GATA1</text>
<path d="M460.0,363.5V362.6H460.5V362.5H461.0V362.4H461.5V362.1H462.0V361.7H462.5V361.2H463.0V361.5H463.5V362.2H464.0V362.5H465.5V362.4H466.0V362.0H466.5V361.2H467.0V361.3H467.5V362.2H468.5V361.3H469.0V360.8H469.5V361.0H470.0V361.5H470.5V362.2H471.0V362.3H471.5V361.8H472.0V361.6H472.5V361.7H473.0V361.8H474.0V361.4H474.5V360.3H475.0V360.6H475.5V362.1H476.0V362.6H477.0V362.3H477.5V360.9H478.0V360.5H478.5V361.5H479.0V362.0H479.5V362.3H480.5V362.2H481.0V362.1H481.5V362.0H482.0V361.6H482.5V360.5H483.0V360.6H483.5V361.9H484.0V362.3H485.0V362.1H485.5V361.6H486.0V361.4H487.0V361.1H487.5V360.3H488.0V360.0H488.5V360.2H489.0V360.8H489.5V361.7H490.0V362.1H490.5V362.3H491.0V362.0H491.5V361.0H492.0V360.2H492.5V359.8H493.0V360.7H493.5V362.2H494.0V362.4H494.5V361.4H495.0V360.6H495.5V360.4H496.5V360.9H497.0V363.5Z" fill="#d02a30"/>
<path d="M497.8,363.5V362.5H498.3V362.4H498.8V362.3H499.3V362.2H499.8V361.8H500.3V360.7H500.8V360.5H501.3V361.3H501.8V361.4H502.3V361.0H502.8V361.4H503.3V362.3H503.8V362.4H504.3V361.9H504.8V361.3H505.3V360.7H506.3V361.3H506.8V361.2H507.3V360.3H507.8V359.9H508.3V360.1H508.8V360.7H509.3V361.6H509.8V362.2H510.3V362.5H510.8V362.4H511.3V361.4H511.8V361.3H512.3V362.2H512.8V362.5H513.3V362.6H513.8V362.4H514.3V361.4H514.8V360.7H515.3V360.4H515.8V360.3H516.8V360.2H517.3V360.0H517.8V360.6H518.3V361.9H518.8V362.4H519.3V362.5H520.8V362.1H521.3V360.7H522.3V362.1H522.8V362.5H524.3V362.6H526.8V362.5H527.3V362.2H527.8V362.1H528.3V362.4H529.3V362.2H529.8V361.7H530.3V360.6H530.8V360.8H531.3V362.0H531.8V362.1H532.3V361.1H532.8V360.5H533.3V360.7H533.8V360.9H534.3V361.2H534.8V361.4H535.3V360.3H535.8V355.1H536.3V350.1H536.8V345.5H537.3V343.9H537.8V346.3H538.3V351.1H538.8V356.1H539.3V361.4H539.8V362.1H540.3V362.2H541.3V362.0H541.8V361.5H542.3V360.3H543.3V361.4H543.8V362.1H544.3V362.4H545.3V362.0H545.8V361.4H546.3V360.8H547.3V361.5H547.8V361.6H548.3V361.1H548.8V361.4H549.3V362.3H549.8V362.5H550.3V362.6H550.8V362.3H551.3V361.6H552.3V362.4H552.8V362.5H553.3V362.3H553.8V362.1H554.3V362.0H554.8V362.1H555.3V362.3H555.8V362.4H556.3V362.6H557.8V362.3H558.3V360.8H558.8V360.1H559.3V360.7H560.3V360.1H560.8V360.3H561.3V361.3H561.8V361.2H562.3V360.3H562.8V359.9H563.3V360.1H563.8V360.5H564.3V361.0H564.8V361.3H565.3V361.5H566.3V361.6H566.8V361.8H567.3V362.2H568.3V362.1H568.8V361.7H569.3V361.1H569.8V361.3H570.3V363.5Z" fill="#d02a30"/>
<path d="M571.0,363.5V361.3H571.5V361.2H572.0V361.0H572.5V360.6H573.0V361.0H573.5V361.9H574.0V362.0H574.5V361.4H575.0V360.9H575.5V360.4H576.0V360.1H576.5V360.0H577.0V360.8H577.5V362.0H578.0V362.2H578.5V361.5H579.0V361.1H579.5V361.2H580.0V361.3H580.5V361.5H581.0V361.2H581.5V360.3H582.5V361.1H583.0V361.6H583.5V361.7H584.0V361.4H584.5V360.4H585.0V360.2H585.5V360.9H586.0V361.4H586.5V361.9H587.0V362.2H587.5V362.1H588.0V362.0H588.5V361.8H589.0V361.9H589.5V362.4H590.5V361.7H591.0V361.1H591.5V360.9H592.0V361.1H592.5V361.6H593.0V361.5H593.5V360.7H594.0V360.2H594.5V360.0H595.0V360.4H595.5V361.1H596.0V361.3H596.5V361.1H597.0V361.5H597.5V362.3H598.0V362.5H598.5V362.6H599.0V362.2H599.5V360.7H600.0V360.5H600.5V361.7H601.0V362.2H601.5V362.3H602.0V362.0H602.5V360.8H603.0V360.2H603.5V360.6H604.0V361.3H604.5V362.2H605.0V362.4H605.5V360.6H606.0V355.8H606.5V351.3H607.0V347.2H607.5V346.5H608.0V349.6H608.5V354.0H609.0V358.6H609.5V361.9H610.0V361.7H610.5V362.0H611.0V362.1H611.5V362.0H612.0V362.1H612.5V362.3H613.0V362.4H613.5V362.5H614.5V362.6H615.0V362.3H615.5V361.0H616.0V360.3H616.5V360.6H617.0V360.9H617.5V361.3H618.0V361.8H618.5V362.3H619.0V362.5H621.0V362.4H621.5V362.2H622.0V362.3H622.5V363.5Z" fill="#d02a30"/>
<path d="M460.0,390.8V388.8H460.5V388.7H461.0V388.4H461.5V387.9H462.0V387.6H462.5V387.4H464.0V388.0H464.5V388.9H465.5V387.8H466.0V387.7H466.5V388.7H467.0V389.2H467.5V389.4H468.0V389.6H468.5V389.8H469.0V389.7H469.5V389.2H470.0V389.1H470.5V389.6H471.0V389.7H471.5V389.6H472.0V389.3H472.5V388.8H473.0V388.4H473.5V388.1H474.0V387.9H474.5V388.0H475.0V388.6H475.5V389.6H476.0V389.8H476.5V389.9H477.0V389.8H477.5V389.7H478.0V389.4H478.5V389.0H479.0V388.5H479.5V387.9H480.0V387.7H480.5V387.8H481.0V387.7H481.5V387.4H482.0V387.6H482.5V388.3H483.0V388.6H483.5V388.5H484.0V388.7H484.5V389.3H485.0V389.5H485.5V389.4H486.0V389.5H486.5V389.6H487.0V389.5H487.5V389.1H488.0V388.7H488.5V388.6H490.0V388.8H490.5V389.1H491.0V389.2H492.0V389.3H492.5V389.5H493.0V389.2H493.5V388.3H494.0V388.0H494.5V388.4H495.0V388.5H495.5V388.2H496.0V387.9H496.5V387.8H497.0V388.3H497.5V389.2H498.0V389.6H498.5V389.7H499.5V389.6H500.0V389.1H500.5V388.0H501.0V387.5H501.5V387.7H502.0V388.2H502.5V388.9H503.5V388.3H504.5V389.1H505.0V389.0H505.5V388.1H506.0V388.3H506.5V389.5H507.0V389.6H507.5V388.7H508.0V387.8H508.5V387.3H509.0V387.6H509.5V388.7H510.0V389.1H511.0V389.3H511.5V389.6H512.0V389.7H512.5V389.6H513.0V389.5H513.5V389.6H514.5V389.5H515.0V389.6H515.5V389.8H516.5V389.6H517.5V389.8H518.0V389.7H518.5V389.2H519.0V388.9H519.5V389.1H520.0V389.3H520.5V389.5H521.0V389.2H521.5V387.9H522.5V389.0H523.0V389.3H523.5V389.0H524.0V388.5H524.5V387.8H525.0V387.5H525.5V387.8H526.5V387.3H527.0V387.5H527.5V388.2H528.0V388.3H528.5V387.8H529.0V388.3H529.5V389.5H530.0V389.6H530.5V388.7H531.0V388.5H531.5V389.1H532.0V389.4H533.0V389.1H533.5V387.8H534.0V386.8H534.5V386.2H535.0V382.7H535.5V380.8H536.5V379.9H537.0V373.6H537.5V370.3H538.0V372.4H538.5V378.6H539.0V383.8H540.0V385.5H540.5V388.5H541.0V389.4H541.5V389.0H542.0V389.2H542.5V389.7H543.0V389.8H543.5V389.6H544.0V389.4H544.5V389.1H545.0V388.5H545.5V387.6H546.0V387.2H546.5V387.4H547.0V387.9H547.5V388.5H548.0V388.6H548.5V388.2H549.0V390.8Z" fill="#d02a30"/>
<path d="M549.5,390.8V389.4H550.0V389.3H550.5V389.2H551.0V389.1H551.5V389.0H552.0V387.6H552.5V386.8H553.5V387.6H554.0V389.0H554.5V388.4H555.0V387.8H556.0V388.4H556.5V389.4H557.0V389.7H557.5V387.5H558.0V386.3H559.0V387.5H559.5V388.7H560.0V387.8H561.0V388.9H561.5V389.4H562.0V390.8Z" fill="#d02a30"/>
<path d="M562.5,390.8V390.0H563.0V389.8H563.5V389.6H564.0V389.4H564.5V389.2H565.5V389.3H568.5V390.8Z" fill="#d02a30"/>
<path d="M570.5,390.8V388.8H571.0V389.6H572.0V389.0H572.5V388.3H573.0V387.9H573.5V387.6H574.5V388.0H575.0V388.6H575.5V388.8H576.0V388.6H576.5V388.7H577.0V389.1H577.5V389.2H578.0V388.9H578.5V389.1H579.0V389.6H580.0V388.8H580.5V388.3H581.0V388.5H581.5V388.8H582.0V389.3H582.5V389.4H583.0V389.3H583.5V389.0H584.0V388.4H584.5V388.3H585.0V388.9H585.5V388.7H586.0V387.7H586.5V387.1H587.5V387.2H588.0V387.5H588.5V388.4H589.0V389.5H589.5V389.8H591.0V389.6H591.5V389.4H592.5V389.1H593.0V388.5H593.5V388.1H594.0V387.8H594.5V388.0H595.0V388.5H595.5V388.6H596.0V388.5H597.0V388.6H597.5V389.1H598.0V389.7H599.0V389.2H599.5V389.1H600.0V389.5H601.0V389.3H601.5V389.4H602.0V389.8H602.5V389.7H603.0V388.9H603.5V388.1H604.0V387.6H604.5V388.2H605.0V389.5H605.5V389.4H606.0V385.9H606.5V382.6H607.0V379.6H607.5V379.1H608.0V381.3H608.5V384.6H609.0V388.0H609.5V389.4H610.0V388.3H610.5V387.7H611.0V388.0H611.5V387.9H612.0V387.6H612.5V388.1H613.0V389.2H613.5V389.4H614.0V388.6H614.5V388.1H615.0V388.2H615.5V388.4H616.0V388.7H616.5V388.5H617.0V387.7H617.5V387.6H618.0V388.2H618.5V388.8H619.0V389.3H619.5V389.2H620.0V388.5H620.5V388.4H621.0V388.8H621.5V389.2H622.0V389.5H622.5V390.8Z" fill="#d02a30"/>
<line x1="460.00" y1="419.90" x2="622.50" y2="419.90" stroke="#444" stroke-width="1" />
<path d="M460.0,419.9V419.6H460.5V419.7H463.0V419.6H464.5V419.7H465.0V419.8H465.5V419.9H466.5V419.8H467.0V419.7H467.5V419.6H468.5V419.7H469.5V419.8H470.5V419.7H471.5V419.6H472.0V419.7H473.0V419.8H474.0V419.9H474.5V419.8H480.5V419.7H481.5V419.6H483.0V419.7H484.5V419.6H485.0V419.5H485.5V419.4H486.5V419.5H487.5V419.6H488.0V419.7H489.0V419.8H491.0V419.7H492.0V419.6H493.0V419.7H494.5V419.8H495.5V419.9H496.5V419.8H497.0V419.9H498.5V419.8H499.0V419.9H501.0V419.8H502.5V419.7H504.5V419.6H506.0V419.5H507.0V419.4H508.5V419.5H509.0V418.7H509.5V417.8H510.0V417.1H510.5V416.9H511.0V417.0H511.5V417.6H512.0V418.5H512.5V418.4H513.5V418.7H514.0V419.2H514.5V419.8H516.5V419.7H517.5V419.6H518.0V419.5H519.0V419.4H520.0V419.5H520.5V419.6H521.0V419.8H521.5V419.9H522.5V419.8H523.0V419.7H523.5V419.6H525.0V419.7H525.5V419.8H527.5V419.9H528.0V419.8H530.0V419.7H532.0V419.8H535.5V417.4H536.0V414.5H536.5V412.0H537.0V410.1H537.5V409.9H538.0V411.1H538.5V413.4H539.0V416.2H539.5V419.3H540.0V419.6H540.5V419.7H541.0V419.8H542.0V419.9H542.5V419.8H546.5V419.7H547.5V419.6H548.5V419.7H549.5V419.8H550.5V419.7H551.5V419.6H552.5V419.7H553.0V419.8H553.5V419.9H554.5V419.8H555.0V419.7H555.5V419.5H556.5V419.6H557.5V419.7H558.5V419.6H559.0V419.5H559.5V419.4H561.5V419.5H563.5V419.4H564.0V419.5H564.5V419.7H565.0V419.8H565.5V419.9H566.5V419.8H567.0V419.7H567.5V419.6H568.0V419.5H568.5V419.6H569.5V419.9H571.0V419.5H571.5V419.4H572.5V419.5H573.0V419.6H574.0V419.7H575.5V419.8H576.5V419.7H577.0V419.6H577.5V419.5H578.0V419.4H579.0V419.3H580.0V419.4H580.5V419.6H581.0V419.7H581.5V419.8H582.0V419.9H584.5V419.8H586.0V419.7H587.5V419.6H588.5V419.7H589.0V419.8H589.5V419.0H590.0V418.3H590.5V417.9H591.5V418.3H592.0V419.0H592.5V419.7H594.5V419.6H595.5V419.5H596.5V419.7H597.0V419.8H598.0V419.9H600.5V419.8H601.5V419.7H602.5V419.6H603.5V419.5H604.5V415.9H605.0V411.2H605.5V406.7H606.0V402.6H606.5V399.1H607.0V398.1H607.5V399.7H608.0V403.4H608.5V407.6H609.0V412.1H609.5V416.9H610.0V419.8H610.5V419.9H612.5V419.8H613.0V419.7H613.5V419.6H614.0V419.5H614.5V418.7H615.0V418.1H615.5V417.9H616.0V418.0H616.5V418.5H617.0V419.3H617.5V419.9H620.5V419.8H621.0V419.7H621.5V419.6H622.5V419.9Z" fill="#111"/>
<line x1="460.00" y1="448.10" x2="622.50" y2="448.10" stroke="#444" stroke-width="1" />
<path d="M460.0,448.1V448.1H460.5V448.0H463.5V448.1H464.5V448.0H467.0V447.9H471.0V448.0H475.5V448.1H476.0V448.0H477.0V447.9H477.5V447.8H478.5V447.9H479.5V448.0H480.5V447.9H481.0V447.8H481.5V447.7H482.0V447.8H482.5V447.9H483.0V448.0H483.5V448.1H487.0V448.0H490.5V447.9H491.5V447.8H493.0V447.7H494.5V447.8H495.0V447.9H496.5V448.0H497.0V448.1H498.5V448.0H499.0V447.9H499.5V447.8H500.5V447.9H502.0V448.0H506.5V448.1H508.5V448.0H509.0V447.3H509.5V446.7H510.0V446.2H510.5V446.1H511.0V446.2H511.5V446.6H512.0V447.2H512.5V447.9H513.0V448.1H514.0V448.0H515.5V447.9H522.0V447.8H524.0V447.7H526.0V447.6H528.0V447.7H528.5V447.8H529.0V447.9H529.5V448.0H532.5V447.9H533.0V447.0H533.5V446.4H534.0V446.1H535.0V446.6H535.5V447.4H536.0V446.0H536.5V444.9H537.0V444.2H537.5V444.1H538.0V444.5H538.5V445.5H539.0V446.8H539.5V447.7H541.5V447.8H542.5V447.9H543.0V448.0H545.0V447.9H546.0V447.8H548.0V447.9H549.0V448.0H549.5V448.1H550.5V448.0H551.0V447.9H551.5V447.8H554.5V447.9H556.5V447.8H557.5V447.7H558.5V447.9H559.0V448.0H559.5V448.1H562.5V448.0H563.5V447.9H564.0V447.8H566.0V447.9H566.5V448.0H567.5V448.1H569.0V448.0H569.5V448.1H571.0V447.9H573.0V448.0H575.0V448.1H576.5V448.0H577.0V447.9H577.5V447.8H578.0V447.7H580.5V447.8H581.5V447.9H582.5V448.0H585.5V447.9H591.0V447.8H592.5V447.9H593.0V448.0H594.5V447.9H595.5V447.7H597.0V447.8H598.0V447.9H599.0V448.0H599.5V448.1H602.5V448.0H603.0V447.9H603.5V447.8H604.5V444.9H605.0V439.7H605.5V434.9H606.0V430.4H606.5V426.6H607.0V425.5H607.5V427.3H608.0V431.3H608.5V435.8H609.0V440.7H609.5V445.9H610.0V447.7H610.5V447.8H611.0V447.9H611.5V448.0H613.0V447.9H613.5V447.8H614.0V447.6H614.5V446.6H615.0V445.8H615.5V445.6H616.0V445.7H616.5V446.4H617.0V447.4H617.5V448.0H619.5V448.1H620.0V448.0H621.0V447.9H621.5V447.8H622.5V448.1Z" fill="#111"/>
<line x1="460.00" y1="475.40" x2="622.00" y2="475.40" stroke="#6b5b4b" stroke-width="1" />
<path d="M460.0,475.4V475.2H461.0V475.1H461.5V475.0H462.0V475.1H462.5V475.2H463.0V475.3H463.5V475.4H465.5V475.3H466.5V475.2H467.0V475.1H467.5V475.0H469.0V475.1H470.0V475.2H470.5V475.3H471.5V475.4H473.0V475.3H474.5V475.2H475.0V475.1H475.5V475.0H476.5V475.1H477.0V475.2H478.0V475.3H479.0V475.4H480.5V475.3H481.0V475.2H481.5V475.1H482.0V475.0H482.5V475.2H483.0V475.3H483.5V475.4H484.5V475.3H485.5V475.2H490.5V475.1H491.5V475.0H492.5V475.1H493.0V475.3H494.0V475.4H494.5V475.3H495.5V475.2H496.5V475.3H497.5V475.4H498.5V475.3H499.0V475.2H499.5V475.0H500.5V475.1H501.0V475.3H502.0V475.4H502.5V475.3H504.0V475.2H505.0V475.1H506.0V475.0H508.0V475.1H508.5V475.2H509.0V475.3H509.5V475.4H510.5V475.3H511.0V475.2H511.5V475.1H512.0V475.0H514.0V475.1H514.5V475.2H515.5V475.3H516.5V475.2H517.5V475.1H518.5V475.2H519.0V475.3H520.0V475.4H525.0V475.3H526.5V475.2H527.5V475.1H529.0V475.2H530.5V475.1H531.5V475.0H532.0V474.9H533.0V475.0H534.5V475.2H535.0V475.3H535.5V473.7H536.0V472.3H536.5V471.5H537.0V471.4H537.5V471.9H538.0V473.1H538.5V474.7H539.0V475.4H540.5V475.3H541.5V475.2H546.5V475.3H547.5V475.4H548.5V475.3H549.5V475.2H550.5V475.3H551.5V475.4H552.5V475.3H553.0V475.2H553.5V475.1H555.0V475.2H556.0V475.3H557.0V475.4H558.5V475.3H559.0V475.1H559.5V475.0H560.0V474.9H562.0V475.0H562.5V475.1H563.0V475.2H563.5V475.3H564.5V475.2H565.0V475.1H565.5V475.0H566.5V475.1H567.0V475.2H567.5V475.3H569.5V475.2H572.5V475.1H574.5V475.2H575.0V475.3H575.5V475.4H580.5V475.3H582.5V475.2H583.5V475.1H586.0V475.2H587.0V475.3H587.5V475.4H588.5V475.3H589.0V475.2H589.5V475.1H590.5V474.3H591.0V473.7H591.5V473.4H592.5V473.9H593.0V474.7H593.5V475.4H595.0V475.3H596.0V475.2H597.0V475.1H597.5V475.0H600.5V475.1H601.0V475.2H603.0V475.1H604.5V475.2H605.0V469.6H605.5V464.1H606.0V459.1H606.5V454.7H607.0V452.7H607.5V453.9H608.0V458.1H608.5V463.1H609.0V468.5H609.5V474.2H610.0V475.0H611.0V475.1H612.0V475.2H613.0V475.3H613.5V475.4H615.0V475.3H616.5V475.2H617.5V475.1H618.5V475.2H619.0V475.3H619.5V475.4H622.0V475.4Z" fill="#5b3b1b"/>
<line x1="460.00" y1="503.80" x2="622.00" y2="503.80" stroke="#f2c890" stroke-width="0.9" stroke-dasharray="4 2 2 2"/>
<path d="M535.0,503.5V503.5H536.0V502.8H536.5V502.3H537.0V502.0H538.0V502.3H538.5V502.8H539.0V503.5H540.0V503.5Z" fill="#e8962f"/>
<path d="M460.5,531.4V528.6H461.0V528.7H461.5V529.2H462.0V530.4H462.5V530.8H464.0V530.9H464.5V530.8H465.0V530.5H465.5V530.3H466.0V530.0H466.5V529.8H467.0V529.9H467.5V530.1H468.0V527.5H468.5V527.3H469.0V527.7H469.5V527.1H470.0V526.8H470.5V527.1H471.0V527.4H471.5V527.5H472.0V527.3H472.5V527.6H473.0V527.2H473.5V527.5H474.0V527.3H474.5V527.4H475.0V527.6H475.5V527.5H476.0V526.7H476.5V524.5H477.0V523.6H477.5V521.9H478.0V522.4H478.5V522.3H479.0V523.6H479.5V524.2H480.0V522.8H480.5V522.9H481.0V523.9H481.5V525.7H482.0V527.6H482.5V527.4H483.0V527.3H483.5V527.4H484.5V527.1H485.0V525.9H485.5V524.7H486.5V525.1H487.0V525.8H487.5V522.9H488.0V520.9H488.5V519.9H489.0V519.2H489.5V516.4H490.0V516.1H490.5V514.8H491.0V516.9H491.5V519.5H492.0V518.6H492.5V519.5H493.0V521.1H493.5V518.8H494.0V511.9H494.5V510.7H495.0V511.6H495.5V517.7H496.0V521.9H496.5V521.2H497.0V521.3H497.5V522.2H498.0V524.5H498.5V521.6H499.0V520.1H499.5V520.6H500.0V520.2H500.5V522.8H501.0V520.0H501.5V518.0H502.0V518.5H502.5V516.8H503.0V515.2H503.5V516.4H504.0V516.5H504.5V519.3H505.0V518.7H505.5V519.4H506.0V519.8H506.5V521.8H507.0V521.1H507.5V519.1H508.0V518.8H508.5V517.8H509.0V516.0H509.5V516.4H510.0V516.9H510.5V519.8H511.0V519.0H512.0V519.8H512.5V522.5H513.0V524.9H513.5V523.7H514.0V523.5H514.5V524.6H515.0V524.8H515.5V522.7H516.0V521.1H516.5V521.5H517.0V517.9H517.5V516.7H518.0V516.6H518.5V517.3H519.0V519.3H519.5V523.2H520.0V522.4H521.0V523.4H521.5V524.9H522.0V527.3H522.5V527.4H523.0V526.4H523.5V525.8H524.0V525.5H524.5V526.2H525.0V525.7H525.5V523.4H526.0V523.2H527.0V523.3H527.5V524.5H528.0V525.8H528.5V525.4H529.0V526.0H529.5V526.2H530.0V527.3H531.0V527.5H531.5V527.1H532.0V526.7H532.5V526.5H533.0V526.6H533.5V527.2H534.0V527.6H535.5V527.4H536.0V527.5H536.5V527.6H537.0V527.2H537.5V527.4H538.0V527.3H538.5V527.6H539.0V527.3H540.0V527.4H540.5V527.3H541.0V527.4H541.5V525.3H542.0V523.4H542.5V521.9H543.0V521.6H543.5V520.6H544.0V518.3H544.5V516.9H545.0V517.9H545.5V519.0H546.0V521.5H546.5V524.0H547.0V524.2H547.5V524.7H548.0V526.5H548.5V527.7H549.0V527.6H549.5V527.4H550.0V527.6H550.5V523.8H551.0V521.2H551.5V520.4H552.0V520.8H552.5V523.3H553.0V526.9H553.5V527.4H554.0V526.3H554.5V524.7H555.0V523.6H555.5V523.9H556.0V524.7H556.5V521.3H557.0V518.0H557.5V517.1H558.0V516.5H558.5V517.7H559.0V519.4H559.5V522.5H560.0V522.1H560.5V523.3H561.0V525.1H562.0V524.7H562.5V526.5H563.0V527.4H563.5V527.6H564.0V525.5H564.5V525.0H565.0V524.9H565.5V526.1H566.0V527.4H566.5V527.6H567.0V527.0H567.5V526.1H568.0V525.7H568.5V526.1H569.0V527.3H569.5V531.4H571.5V527.3H572.0V527.5H572.5V527.3H573.0V526.7H573.5V524.5H574.0V523.8H574.5V524.0H575.0V523.4H575.5V521.3H576.0V521.7H576.5V521.0H577.0V522.9H577.5V525.0H578.0V523.7H578.5V523.4H579.0V524.4H579.5V523.0H580.0V521.8H580.5V521.2H581.0V521.5H581.5V523.2H582.0V524.7H582.5V524.2H583.5V524.4H584.0V523.2H584.5V520.7H585.0V520.3H585.5V520.0H586.0V521.0H586.5V522.4H587.0V525.4H587.5V526.1H588.0V525.6H588.5V526.7H589.0V527.5H589.5V527.4H590.5V526.4H591.0V524.3H591.5V523.9H592.0V524.0H592.5V524.7H593.0V526.6H593.5V527.6H594.0V527.2H594.5V527.1H595.0V526.3H595.5V525.6H596.0V525.9H596.5V526.7H597.0V527.7H597.5V527.3H598.0V527.4H598.5V526.5H599.0V526.0H599.5V525.8H600.0V526.3H600.5V527.5H601.0V527.4H601.5V526.8H602.0V525.9H602.5V525.8H603.0V525.9H603.5V527.4H604.0V527.5H604.5V527.4H605.0V527.3H605.5V527.2H606.0V527.6H607.0V526.6H607.5V525.7H608.0V525.1H608.5V525.3H609.0V526.3H609.5V527.3H610.0V527.4H610.5V527.2H611.0V527.3H611.5V527.2H612.0V530.1H612.5V529.7H613.0V529.0H613.5V528.6H614.0V528.1H614.5V528.0H615.0V528.5H616.0V528.4H616.5V528.5H617.0V528.7H617.5V528.9H618.0V529.0H618.5V529.4H619.0V529.8H619.5V529.9H620.0V529.7H620.5V529.8H621.0V530.2H622.0V530.3H622.5V530.5H623.0V530.8H623.5V531.4Z" fill="#5a3716"/>
<path d="M460.5,559.5V558.1H461.0V558.3H461.5V558.5H462.0V558.6H463.5V558.5H466.5V558.4H467.0V558.3H467.5V558.1H468.0V558.0H468.5V556.9H469.0V556.0H469.5V555.5H470.5V556.0H471.0V556.9H471.5V557.7H472.0V557.6H472.5V557.8H473.0V558.1H473.5V558.3H474.0V558.5H474.5V558.2H475.0V557.7H475.5V557.5H476.5V557.7H477.0V558.2H477.5V558.5H478.0V558.6H479.5V558.5H481.0V558.4H481.5V558.3H482.0V558.2H482.5V557.9H483.0V557.3H483.5V557.0H484.5V557.3H485.0V557.9H485.5V558.6H486.0V558.5H487.0V558.4H487.5V558.2H488.0V558.1H488.5V558.0H489.0V557.7H489.5V557.5H490.5V557.7H491.0V558.2H491.5V558.4H492.0V558.5H493.0V558.4H493.5V558.3H494.0V558.1H494.5V557.6H495.0V556.9H495.5V556.5H496.5V556.9H497.0V557.6H497.5V558.4H498.0V558.6H499.0V558.4H499.5V558.2H500.0V557.9H500.5V556.9H501.0V556.0H501.5V555.5H502.5V556.0H503.0V556.9H503.5V558.1H504.0V558.3H504.5V557.6H505.0V556.9H505.5V556.5H506.5V556.9H507.0V557.6H507.5V558.0H508.0V557.7H508.5V557.6H509.0V557.9H509.5V558.1H510.0V558.3H510.5V557.9H511.0V557.3H511.5V557.0H512.5V557.3H513.0V557.9H513.5V558.6H514.5V558.5H515.0V558.3H515.5V558.1H516.0V557.8H516.5V557.7H517.0V557.8H517.5V557.9H518.0V558.0H519.0V557.7H519.5V557.5H520.5V557.7H521.0V557.8H522.0V557.9H523.0V558.0H523.5V558.1H525.0V557.9H525.5V557.7H526.0V557.6H527.0V557.7H527.5V557.5H528.5V557.7H529.0V558.2H530.5V558.1H531.0V558.0H531.5V557.9H532.0V557.8H533.5V557.9H534.0V559.5H536.0V557.7H537.0V557.8H537.5V557.9H538.0V558.1H539.0V558.0H540.0V557.9H540.5V558.0H541.0V558.3H541.5V558.4H542.0V558.6H542.5V558.4H543.0V557.1H543.5V556.2H544.0V555.5H545.0V555.9H545.5V556.7H546.0V557.8H546.5V557.6H547.0V556.9H547.5V556.5H548.5V556.9H549.0V557.6H549.5V558.4H550.0V558.5H552.0V558.4H552.5V557.6H553.0V556.9H553.5V556.5H554.5V556.9H555.0V557.6H555.5V558.2H556.0V558.1H557.0V558.2H558.0V558.3H558.5V557.6H559.0V556.9H559.5V556.5H560.5V556.9H561.0V557.6H561.5V558.4H562.0V558.5H563.5V557.9H564.0V557.3H564.5V557.0H565.5V557.3H566.0V557.7H566.5V557.6H567.0V557.7H567.5V557.8H568.0V557.9H568.5V558.0H569.5V559.5H572.0V558.5H573.0V558.3H573.5V558.2H574.0V558.0H575.0V558.2H575.5V557.6H576.0V556.9H576.5V556.5H577.5V556.9H578.0V557.6H578.5V558.3H579.0V558.1H579.5V557.8H580.0V557.6H580.5V557.5H581.0V557.7H581.5V557.8H582.0V557.9H582.5V557.6H583.0V556.9H583.5V556.5H584.5V556.9H585.0V557.6H585.5V558.0H586.5V557.9H587.5V557.8H588.0V557.7H588.5V557.6H589.0V556.9H589.5V556.5H590.5V556.9H591.0V557.6H591.5V558.3H592.0V558.4H592.5V558.5H593.5V558.6H595.0V558.5H595.5V558.2H596.0V557.7H596.5V557.5H597.5V557.7H598.0V558.2H598.5V558.5H600.5V558.4H601.0V558.2H601.5V558.0H602.0V557.7H602.5V557.5H603.0V557.6H604.5V557.7H605.0V558.0H605.5V558.2H606.0V558.3H606.5V557.6H607.0V556.9H607.5V556.5H608.5V556.9H609.0V557.6H609.5V558.2H610.0V558.3H611.0V558.1H611.5V557.9H612.0V559.5H613.5V558.0H614.0V557.7H614.5V557.5H615.5V557.7H616.0V558.2H616.5V558.5H618.5V558.4H619.5V558.3H620.0V558.2H621.0V558.3H621.5V558.4H623.0V559.5Z" fill="#e8962f"/>
<line x1="460.00" y1="587.40" x2="622.00" y2="587.40" stroke="#5b4b3b" stroke-width="1" />
<path d="M460.0,587.4V587.4H460.5V587.3H461.0V587.1H461.5V586.9H462.5V587.1H463.0V587.2H463.5V587.3H465.0V587.2H465.5V587.1H466.5V587.0H467.5V586.9H468.5V586.8H469.5V586.7H470.0V586.8H470.5V586.9H471.0V587.0H471.5V587.1H474.5V587.2H475.0V587.3H475.5V587.4H476.5V587.3H477.5V587.2H478.0V587.1H478.5V587.2H480.0V587.1H480.5V587.0H481.0V586.9H481.5V586.7H482.5V586.8H483.0V586.9H483.5V587.0H484.5V586.9H485.5V586.8H486.5V586.9H487.0V587.0H487.5V587.1H488.0V587.2H489.0V587.3H490.5V587.1H491.0V587.0H491.5V586.7H492.0V586.6H493.0V586.7H494.5V586.9H495.0V587.0H495.5V587.1H496.0V587.2H496.5V587.3H497.5V587.4H498.5V587.3H499.0V587.2H499.5V587.1H502.0V587.0H503.0V586.9H503.5V586.8H505.0V586.9H506.0V587.0H507.5V587.1H508.5V587.0H510.5V587.1H511.5V587.2H512.5V587.3H513.5V587.4H516.0V587.3H516.5V587.2H517.0V586.9H517.5V586.7H518.0V586.5H518.5V586.6H520.0V586.7H520.5V586.9H521.0V587.1H521.5V587.2H522.5V587.1H523.0V586.9H523.5V586.7H524.0V586.6H524.5V586.8H525.0V586.9H525.5V587.0H526.0V587.1H526.5V587.2H527.0V587.3H528.5V587.2H529.0V587.0H529.5V586.8H530.0V586.7H530.5V586.8H531.0V586.9H532.5V586.8H533.0V586.7H533.5V586.6H535.0V586.7H535.5V586.8H536.0V587.0H536.5V587.1H537.0V587.2H537.5V587.3H539.0V587.1H539.5V587.0H540.0V586.9H541.0V586.8H541.5V586.7H543.0V586.6H544.0V586.7H544.5V586.9H545.0V587.0H545.5V587.2H547.0V587.1H548.0V587.0H549.0V586.9H550.5V587.1H551.0V587.2H551.5V587.3H552.5V587.1H553.0V587.0H553.5V586.8H554.0V586.6H554.5V586.7H556.0V586.8H556.5V587.1H557.0V587.2H557.5V587.4H558.5V587.3H559.0V587.2H559.5V587.0H560.5V587.1H561.5V587.2H562.5V587.3H564.5V587.2H565.0V587.1H565.5V587.0H566.0V586.9H566.5V586.8H567.0V586.7H567.5V586.5H568.5V586.7H569.0V586.8H569.5V587.0H570.0V587.1H570.5V587.2H571.0V587.3H573.0V587.2H573.5V587.1H574.0V587.0H575.0V586.9H575.5V586.8H576.0V586.7H576.5V586.6H577.5V586.5H578.5V586.6H579.0V586.7H579.5V586.8H580.0V586.9H580.5V587.1H581.0V587.3H581.5V587.4H582.0V587.3H582.5V587.2H583.0V586.9H583.5V586.6H584.0V586.5H584.5V586.7H585.0V586.8H585.5V586.9H586.0V587.0H586.5V587.2H587.0V587.3H587.5V587.4H592.0V587.3H593.0V587.1H593.5V587.0H594.5V587.1H595.0V587.2H595.5V587.3H596.5V587.2H597.0V587.0H597.5V586.8H598.5V587.0H599.0V587.2H599.5V587.3H601.0V587.2H601.5V587.1H602.0V587.0H602.5V587.1H604.0V587.2H604.5V587.3H605.5V587.4H608.5V587.2H609.0V587.0H609.5V586.7H610.0V586.5H612.0V586.6H612.5V586.9H613.0V587.1H613.5V587.3H614.5V587.2H615.0V587.1H615.5V586.9H616.0V586.7H617.0V586.6H617.5V586.5H618.0V586.4H618.5V586.5H620.0V586.6H622.0V587.4Z" fill="#5b3b1b"/>
<path d="M460.0,615.5V614.1H460.5V614.0H461.0V613.9H461.5V613.8H462.0V613.7H462.5V613.5H463.0V613.2H463.5V612.9H464.0V613.1H464.5V613.6H465.0V614.1H465.5V614.4H466.0V614.5H468.5V614.6H469.5V614.7H471.5V614.6H472.5V614.7H475.0V614.6H476.0V614.5H476.5V614.4H477.0V614.2H477.5V614.0H478.0V613.7H478.5V613.4H479.0V613.0H479.5V612.6H480.0V612.5H480.5V612.7H481.0V613.0H481.5V613.2H482.0V613.5H482.5V613.7H483.0V613.9H483.5V614.1H484.0V614.2H485.5V614.1H486.5V613.9H487.0V613.7H487.5V613.5H488.5V613.8H489.0V614.0H489.5V614.2H490.0V614.4H490.5V614.5H491.0V614.6H492.5V614.2H493.0V613.8H493.5V613.2H494.0V613.0H494.5V613.2H495.0V613.3H495.5V613.5H496.0V613.8H496.5V614.1H497.0V614.3H497.5V614.6H499.0V614.7H501.5V614.6H502.0V614.5H502.5V614.1H503.0V613.5H503.5V612.8H504.5V613.5H505.0V614.1H505.5V614.5H506.0V614.6H506.5V614.3H507.0V614.1H507.5V613.7H508.0V613.4H508.5V613.2H509.0V612.9H509.5V612.6H510.0V612.8H510.5V613.6H511.0V614.2H511.5V614.6H512.0V614.7H512.5V614.6H513.0V614.4H513.5V614.3H514.0V614.2H514.5V614.1H515.0V614.0H516.0V613.8H516.5V613.5H517.0V613.2H517.5V612.8H518.0V612.9H518.5V613.5H519.0V614.0H519.5V614.4H520.0V614.5H521.5V614.4H524.0V614.5H524.5V614.6H525.5V614.7H526.0V614.6H526.5V614.4H527.0V613.4H527.5V611.4H528.0V610.5H528.5V610.6H529.0V612.1H529.5V613.0H530.0V613.1H530.5V613.4H531.0V613.7H531.5V613.9H532.0V614.2H532.5V614.4H533.0V614.5H533.5V614.7H534.0V614.6H534.5V614.4H535.0V612.8H535.5V610.7H536.0V609.5H537.0V604.1H537.5V601.8H538.0V602.1H538.5V606.1H539.0V610.5H540.0V611.8H540.5V613.8H541.0V614.0H541.5V614.2H542.5V613.9H543.0V613.5H543.5V613.1H544.0V613.0H544.5V613.2H545.0V613.3H545.5V613.5H546.0V613.6H547.5V613.7H549.0V613.8H550.0V613.9H550.5V614.1H551.0V614.3H551.5V614.4H552.5V614.3H553.0V614.2H553.5V614.1H554.0V613.9H554.5V613.7H555.0V613.4H555.5V613.2H556.0V613.1H556.5V613.2H557.0V613.3H557.5V613.4H558.0V613.5H558.5V613.8H559.0V614.0H559.5V614.2H560.0V614.1H560.5V613.8H561.0V613.5H561.5V613.2H562.0V612.9H564.0V613.2H564.5V613.8H565.0V614.3H565.5V614.6H566.0V614.7H567.0V614.6H568.5V614.5H570.5V614.6H571.5V614.7H572.0V614.6H572.5V614.4H573.0V614.0H573.5V613.5H574.0V613.2H574.5V613.3H575.0V613.4H575.5V613.5H576.5V613.6H577.0V613.7H577.5V613.8H578.0V613.6H578.5V613.3H579.0V612.9H579.5V612.5H580.0V612.6H580.5V613.2H581.0V613.7H581.5V614.1H582.0V614.3H582.5V614.4H583.5V614.5H584.5V614.6H586.5V614.5H587.0V614.4H587.5V614.3H588.0V614.1H588.5V613.8H589.0V613.5H589.5V613.1H590.0V613.0H590.5V613.2H591.0V613.4H591.5V613.5H592.0V613.8H592.5V614.1H593.0V614.4H593.5V614.6H594.5V614.5H595.0V614.4H595.5V614.2H596.5V614.4H597.0V614.5H597.5V614.6H598.5V614.4H599.0V614.1H599.5V613.8H600.0V613.7H600.5V614.1H601.0V614.3H601.5V614.5H602.0V614.6H604.0V613.2H604.5V611.5H605.0V610.5H605.5V608.8H606.0V603.9H606.5V602.5H607.0V603.3H607.5V607.6H608.0V613.0H608.5V613.2H609.0V613.3H609.5V613.5H610.0V613.7H610.5V613.9H611.0V614.1H611.5V614.3H612.5V614.1H613.0V613.9H613.5V613.6H614.5V613.1H615.0V612.5H616.0V613.1H616.5V614.1H617.0V614.6H617.5V614.7H618.5V614.6H619.5V614.5H620.0V614.3H620.5V614.1H621.0V613.8H621.5V613.5H622.0V615.5Z" fill="#e8962f"/>
<path d="M623.80,353.70 H626.60 V382.60 H623.80" fill="none" stroke="#5252a5" stroke-width="0.95"/>
<path d="M623.80,409.60 H626.60 V438.00 H623.80" fill="none" stroke="#5252a5" stroke-width="0.95"/>
<text x="630.30" y="371.10" font-size="11" text-anchor="start" fill="#3c3c9a" color="#3c3c9a" font-weight="normal" >EB</text>
<text x="630.30" y="422.20" font-size="11" text-anchor="start" fill="#3c3c9a" color="#3c3c9a" font-weight="normal" >MEL</text>
<text x="630.30" y="434.50" font-size="11" text-anchor="start" fill="#3c3c9a" color="#3c3c9a" font-weight="normal" >(ENCODE)</text>
<text x="630.30" y="466.00" font-size="11" text-anchor="start" fill="#3c3c9a" color="#3c3c9a" font-weight="normal" >G1E</text>
<text x="630.30" y="489.00" font-size="11" text-anchor="start" fill="#3c3c9a" color="#3c3c9a" font-weight="normal" >G1E-ER</text>
<text x="630.30" y="502.20" font-size="11" text-anchor="start" fill="#3c3c9a" color="#3c3c9a" font-weight="normal" >(ind. 24 h)</text>
<text x="630.30" y="522.00" font-size="11" text-anchor="start" fill="#3c3c9a" color="#3c3c9a" font-weight="normal" >G1E</text>
<text x="630.30" y="545.10" font-size="11" text-anchor="start" fill="#3c3c9a" color="#3c3c9a" font-weight="normal" >G1E-ER</text>
<text x="630.30" y="558.00" font-size="11" text-anchor="start" fill="#3c3c9a" color="#3c3c9a" font-weight="normal" >(ind. 24 h)</text>
<text x="630.30" y="577.30" font-size="11" text-anchor="start" fill="#3c3c9a" color="#3c3c9a" font-weight="normal" >G1E</text>
<text x="630.30" y="600.40" font-size="11" text-anchor="start" fill="#3c3c9a" color="#3c3c9a" font-weight="normal" >G1E-ER</text>
<text x="630.30" y="613.60" font-size="11" text-anchor="start" fill="#3c3c9a" color="#3c3c9a" font-weight="normal" >(ind. 24 h)</text>
</svg></body></html>
